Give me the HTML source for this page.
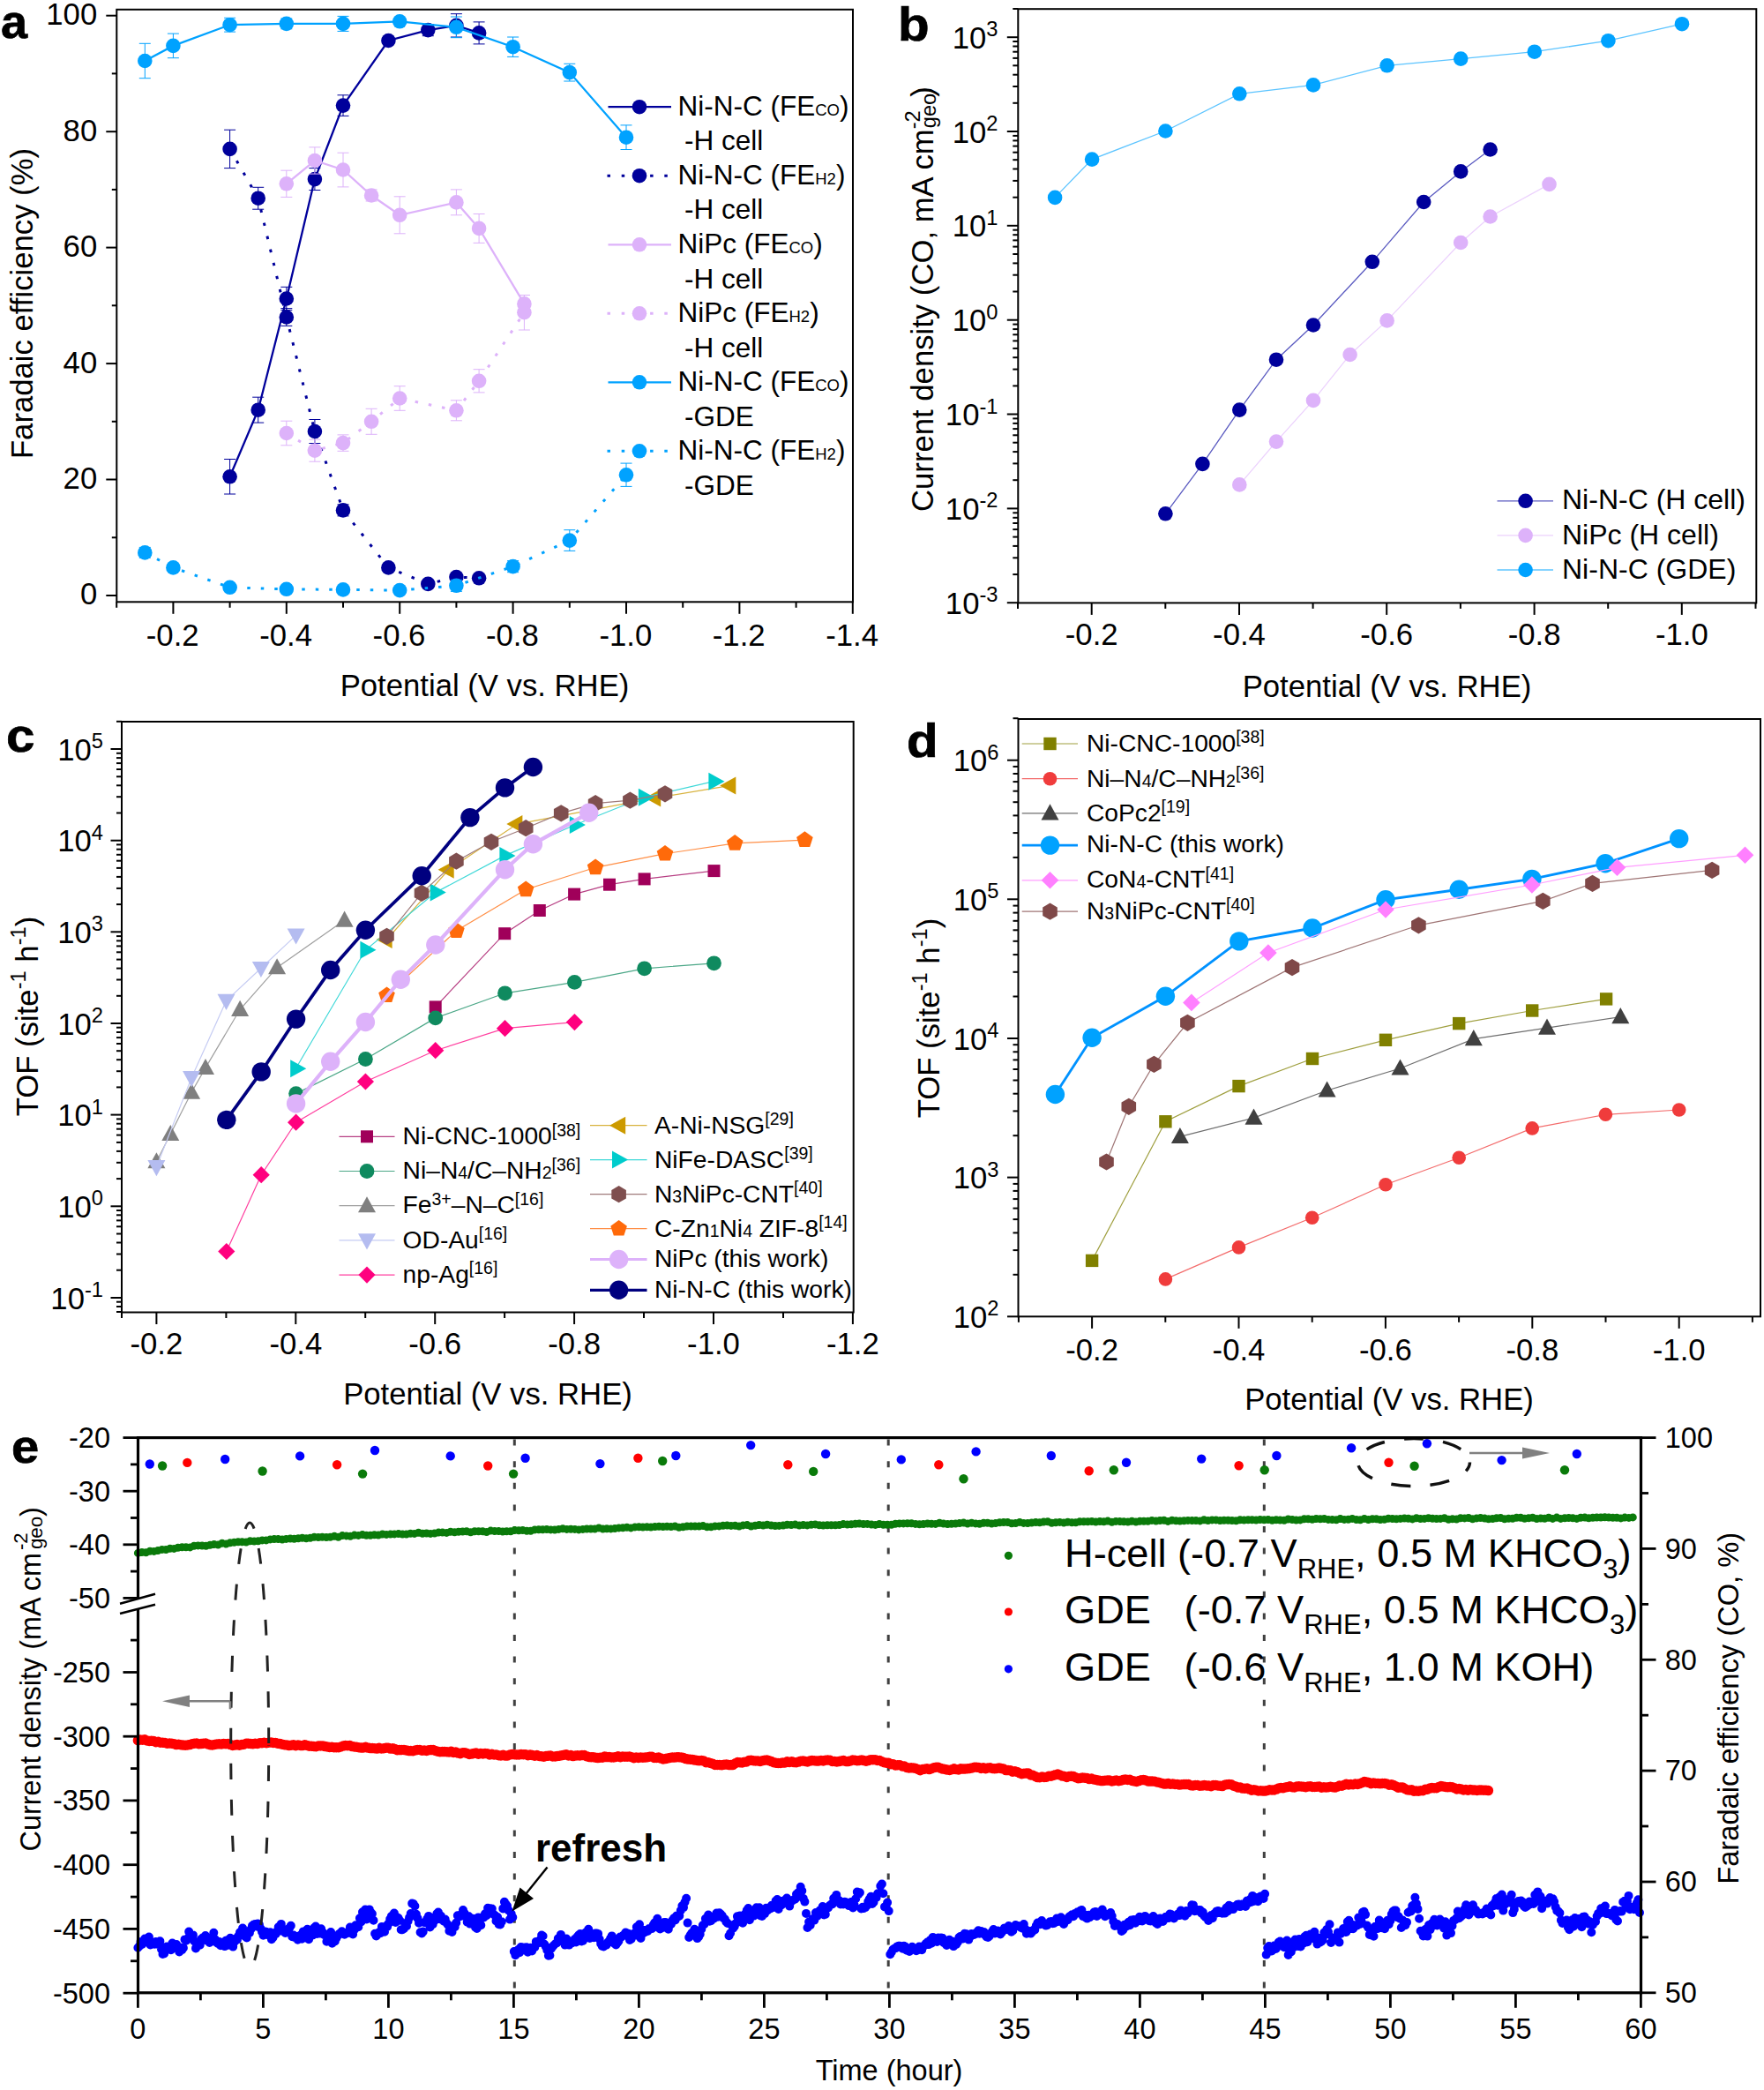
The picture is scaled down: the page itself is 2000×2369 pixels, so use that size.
<!DOCTYPE html><html><head><meta charset="utf-8"><title>Figure</title><style>html,body{margin:0;padding:0;background:#fff}svg{display:block}</style></head><body>
<svg width="2000" height="2369" viewBox="0 0 2000 2369" font-family="Liberation Sans, Arial, sans-serif" fill="#000">
<rect width="2000" height="2369" fill="#fff"/>
<polyline points="260.6,540.3 292.7,464.7 324.8,338.5 356.9,203.1 389,119.6 440.4,46 485.3,34.1 517.4,28.9 543.1,37.4" fill="none" stroke="#00009b" stroke-width="2.3" />
<path d="M260.6 520.5V560M254.1 520.5h13M254.1 560h13" stroke="#00009b" stroke-width="1" fill="none"/>
<path d="M292.7 450.2V479.1M286.2 450.2h13M286.2 479.1h13" stroke="#00009b" stroke-width="1" fill="none"/>
<path d="M324.8 325.3V351.6M318.3 325.3h13M318.3 351.6h13" stroke="#00009b" stroke-width="1" fill="none"/>
<path d="M356.9 190.6V215.5M350.4 190.6h13M350.4 215.5h13" stroke="#00009b" stroke-width="1" fill="none"/>
<path d="M389 107.8V131.4M382.5 107.8h13M382.5 131.4h13" stroke="#00009b" stroke-width="1" fill="none"/>
<path d="M485.3 27.6V40.7M478.8 27.6h13M478.8 40.7h13" stroke="#00009b" stroke-width="1" fill="none"/>
<path d="M517.4 15.7V42M510.9 15.7h13M510.9 42h13" stroke="#00009b" stroke-width="1" fill="none"/>
<path d="M543.1 24.9V49.9M536.6 24.9h13M536.6 49.9h13" stroke="#00009b" stroke-width="1" fill="none"/>
<circle cx="260.6" cy="540.3" r="8.3" fill="#00009b"/>
<circle cx="292.7" cy="464.7" r="8.3" fill="#00009b"/>
<circle cx="324.8" cy="338.5" r="8.3" fill="#00009b"/>
<circle cx="356.9" cy="203.1" r="8.3" fill="#00009b"/>
<circle cx="389" cy="119.6" r="8.3" fill="#00009b"/>
<circle cx="440.4" cy="46" r="8.3" fill="#00009b"/>
<circle cx="485.3" cy="34.1" r="8.3" fill="#00009b"/>
<circle cx="517.4" cy="28.9" r="8.3" fill="#00009b"/>
<circle cx="543.1" cy="37.4" r="8.3" fill="#00009b"/>
<polyline points="260.6,168.9 292.7,224.7 324.8,359.5 356.9,489 389,578.4 440.4,643.4 485.3,661.9 517.4,654 543.1,655.3" fill="none" stroke="#00009b" stroke-width="3" stroke-dasharray="3.5 12"/>
<path d="M260.6 147.2V190.6M254.1 147.2h13M254.1 190.6h13" stroke="#00009b" stroke-width="1" fill="none"/>
<path d="M292.7 212.3V237.2M286.2 212.3h13M286.2 237.2h13" stroke="#00009b" stroke-width="1" fill="none"/>
<path d="M324.8 349.6V369.4M318.3 349.6h13M318.3 369.4h13" stroke="#00009b" stroke-width="1" fill="none"/>
<path d="M356.9 475.5V502.5M350.4 475.5h13M350.4 502.5h13" stroke="#00009b" stroke-width="1" fill="none"/>
<path d="M389 571.8V584.9M382.5 571.8h13M382.5 584.9h13" stroke="#00009b" stroke-width="1" fill="none"/>
<circle cx="260.6" cy="168.9" r="8.3" fill="#00009b"/>
<circle cx="292.7" cy="224.7" r="8.3" fill="#00009b"/>
<circle cx="324.8" cy="359.5" r="8.3" fill="#00009b"/>
<circle cx="356.9" cy="489" r="8.3" fill="#00009b"/>
<circle cx="389" cy="578.4" r="8.3" fill="#00009b"/>
<circle cx="440.4" cy="643.4" r="8.3" fill="#00009b"/>
<circle cx="485.3" cy="661.9" r="8.3" fill="#00009b"/>
<circle cx="517.4" cy="654" r="8.3" fill="#00009b"/>
<circle cx="543.1" cy="655.3" r="8.3" fill="#00009b"/>
<polyline points="324.8,208.3 356.9,182 389,192.5 421.1,221.5 453.2,243.8 517.4,229.4 543.1,258.9 594.4,344.4" fill="none" stroke="#ddb2fa" stroke-width="2.3" />
<path d="M324.8 193.2V223.4M318.3 193.2h13M318.3 223.4h13" stroke="#ddb2fa" stroke-width="1" fill="none"/>
<path d="M356.9 166.9V197.1M350.4 166.9h13M350.4 197.1h13" stroke="#ddb2fa" stroke-width="1" fill="none"/>
<path d="M389 173.2V211.9M382.5 173.2h13M382.5 211.9h13" stroke="#ddb2fa" stroke-width="1" fill="none"/>
<path d="M421.1 214.9V228M414.6 214.9h13M414.6 228h13" stroke="#ddb2fa" stroke-width="1" fill="none"/>
<path d="M453.2 222.8V264.8M446.7 222.8h13M446.7 264.8h13" stroke="#ddb2fa" stroke-width="1" fill="none"/>
<path d="M517.4 214.9V243.8M510.9 214.9h13M510.9 243.8h13" stroke="#ddb2fa" stroke-width="1" fill="none"/>
<path d="M543.1 242.5V275.4M536.6 242.5h13M536.6 275.4h13" stroke="#ddb2fa" stroke-width="1" fill="none"/>
<path d="M594.4 334.5V354.2M587.9 334.5h13M587.9 354.2h13" stroke="#ddb2fa" stroke-width="1" fill="none"/>
<circle cx="324.8" cy="208.3" r="8.3" fill="#ddb2fa"/>
<circle cx="356.9" cy="182" r="8.3" fill="#ddb2fa"/>
<circle cx="389" cy="192.5" r="8.3" fill="#ddb2fa"/>
<circle cx="421.1" cy="221.5" r="8.3" fill="#ddb2fa"/>
<circle cx="453.2" cy="243.8" r="8.3" fill="#ddb2fa"/>
<circle cx="517.4" cy="229.4" r="8.3" fill="#ddb2fa"/>
<circle cx="543.1" cy="258.9" r="8.3" fill="#ddb2fa"/>
<circle cx="594.4" cy="344.4" r="8.3" fill="#ddb2fa"/>
<polyline points="324.8,491 356.9,510.7 389,502.1 421.1,477.8 453.2,451.5 517.4,465.3 543.1,431.8 594.4,354.2" fill="none" stroke="#ddb2fa" stroke-width="3" stroke-dasharray="3.5 12"/>
<path d="M324.8 477.2V504.8M318.3 477.2h13M318.3 504.8h13" stroke="#ddb2fa" stroke-width="1" fill="none"/>
<path d="M356.9 498.2V523.2M350.4 498.2h13M350.4 523.2h13" stroke="#ddb2fa" stroke-width="1" fill="none"/>
<path d="M389 492.9V511.3M382.5 492.9h13M382.5 511.3h13" stroke="#ddb2fa" stroke-width="1" fill="none"/>
<path d="M421.1 463.3V492.3M414.6 463.3h13M414.6 492.3h13" stroke="#ddb2fa" stroke-width="1" fill="none"/>
<path d="M453.2 437.7V465.3M446.7 437.7h13M446.7 465.3h13" stroke="#ddb2fa" stroke-width="1" fill="none"/>
<path d="M517.4 453.8V476.8M510.9 453.8h13M510.9 476.8h13" stroke="#ddb2fa" stroke-width="1" fill="none"/>
<path d="M543.1 418.7V444.9M536.6 418.7h13M536.6 444.9h13" stroke="#ddb2fa" stroke-width="1" fill="none"/>
<path d="M594.4 334.5V374M587.9 334.5h13M587.9 374h13" stroke="#ddb2fa" stroke-width="1" fill="none"/>
<circle cx="324.8" cy="491" r="8.3" fill="#ddb2fa"/>
<circle cx="356.9" cy="510.7" r="8.3" fill="#ddb2fa"/>
<circle cx="389" cy="502.1" r="8.3" fill="#ddb2fa"/>
<circle cx="421.1" cy="477.8" r="8.3" fill="#ddb2fa"/>
<circle cx="453.2" cy="451.5" r="8.3" fill="#ddb2fa"/>
<circle cx="517.4" cy="465.3" r="8.3" fill="#ddb2fa"/>
<circle cx="543.1" cy="431.8" r="8.3" fill="#ddb2fa"/>
<circle cx="594.4" cy="354.2" r="8.3" fill="#ddb2fa"/>
<polyline points="164.3,69 196.4,51.9 260.6,28.2 324.8,26.9 389,26.9 453.2,24.3 517.4,30.8 581.6,53.2 645.8,82.1 710,155.7" fill="none" stroke="#00a2ff" stroke-width="2.3" />
<path d="M164.3 49.3V88.7M157.8 49.3h13M157.8 88.7h13" stroke="#00a2ff" stroke-width="1" fill="none"/>
<path d="M196.4 38.1V65.7M189.9 38.1h13M189.9 65.7h13" stroke="#00a2ff" stroke-width="1" fill="none"/>
<path d="M260.6 20.3V36.1M254.1 20.3h13M254.1 36.1h13" stroke="#00a2ff" stroke-width="1" fill="none"/>
<path d="M324.8 21V32.8M318.3 21h13M318.3 32.8h13" stroke="#00a2ff" stroke-width="1" fill="none"/>
<path d="M389 18.4V35.4M382.5 18.4h13M382.5 35.4h13" stroke="#00a2ff" stroke-width="1" fill="none"/>
<path d="M517.4 19V42.7M510.9 19h13M510.9 42.7h13" stroke="#00a2ff" stroke-width="1" fill="none"/>
<path d="M581.6 42V64.4M575.1 42h13M575.1 64.4h13" stroke="#00a2ff" stroke-width="1" fill="none"/>
<path d="M645.8 72.3V92M639.3 72.3h13M639.3 92h13" stroke="#00a2ff" stroke-width="1" fill="none"/>
<path d="M710 141.9V169.5M703.5 141.9h13M703.5 169.5h13" stroke="#00a2ff" stroke-width="1" fill="none"/>
<circle cx="164.3" cy="69" r="8.3" fill="#00a2ff"/>
<circle cx="196.4" cy="51.9" r="8.3" fill="#00a2ff"/>
<circle cx="260.6" cy="28.2" r="8.3" fill="#00a2ff"/>
<circle cx="324.8" cy="26.9" r="8.3" fill="#00a2ff"/>
<circle cx="389" cy="26.9" r="8.3" fill="#00a2ff"/>
<circle cx="453.2" cy="24.3" r="8.3" fill="#00a2ff"/>
<circle cx="517.4" cy="30.8" r="8.3" fill="#00a2ff"/>
<circle cx="581.6" cy="53.2" r="8.3" fill="#00a2ff"/>
<circle cx="645.8" cy="82.1" r="8.3" fill="#00a2ff"/>
<circle cx="710" cy="155.7" r="8.3" fill="#00a2ff"/>
<polyline points="164.3,626.4 196.4,643.4 260.6,665.8 324.8,667.8 389,668.4 453.2,669.1 517.4,663.8 581.6,642.1 645.8,612.6 710,538.3" fill="none" stroke="#00a2ff" stroke-width="3" stroke-dasharray="3.5 12"/>
<path d="M164.3 620.4V632.3M157.8 620.4h13M157.8 632.3h13" stroke="#00a2ff" stroke-width="1" fill="none"/>
<path d="M517.4 657.3V670.4M510.9 657.3h13M510.9 670.4h13" stroke="#00a2ff" stroke-width="1" fill="none"/>
<path d="M581.6 635.6V648.7M575.1 635.6h13M575.1 648.7h13" stroke="#00a2ff" stroke-width="1" fill="none"/>
<path d="M645.8 600.7V624.4M639.3 600.7h13M639.3 624.4h13" stroke="#00a2ff" stroke-width="1" fill="none"/>
<path d="M710 525.1V551.4M703.5 525.1h13M703.5 551.4h13" stroke="#00a2ff" stroke-width="1" fill="none"/>
<circle cx="164.3" cy="626.4" r="8.3" fill="#00a2ff"/>
<circle cx="196.4" cy="643.4" r="8.3" fill="#00a2ff"/>
<circle cx="260.6" cy="665.8" r="8.3" fill="#00a2ff"/>
<circle cx="324.8" cy="667.8" r="8.3" fill="#00a2ff"/>
<circle cx="389" cy="668.4" r="8.3" fill="#00a2ff"/>
<circle cx="453.2" cy="669.1" r="8.3" fill="#00a2ff"/>
<circle cx="517.4" cy="663.8" r="8.3" fill="#00a2ff"/>
<circle cx="581.6" cy="642.1" r="8.3" fill="#00a2ff"/>
<circle cx="645.8" cy="612.6" r="8.3" fill="#00a2ff"/>
<circle cx="710" cy="538.3" r="8.3" fill="#00a2ff"/>
<rect x="132.3" y="10.8" width="834.7" height="671.5" fill="none" stroke="#000" stroke-width="2"/>
<line x1="132.2" y1="682.3" x2="132.2" y2="688.8" stroke="#000" stroke-width="2" />
<line x1="196.4" y1="682.3" x2="196.4" y2="695.8" stroke="#000" stroke-width="2" />
<text x="195.7" y="732" font-size="34.7" text-anchor="middle" >-0.2</text>
<line x1="260.6" y1="682.3" x2="260.6" y2="688.8" stroke="#000" stroke-width="2" />
<line x1="324.8" y1="682.3" x2="324.8" y2="695.8" stroke="#000" stroke-width="2" />
<text x="324.1" y="732" font-size="34.7" text-anchor="middle" >-0.4</text>
<line x1="389" y1="682.3" x2="389" y2="688.8" stroke="#000" stroke-width="2" />
<line x1="453.2" y1="682.3" x2="453.2" y2="695.8" stroke="#000" stroke-width="2" />
<text x="452.5" y="732" font-size="34.7" text-anchor="middle" >-0.6</text>
<line x1="517.4" y1="682.3" x2="517.4" y2="688.8" stroke="#000" stroke-width="2" />
<line x1="581.6" y1="682.3" x2="581.6" y2="695.8" stroke="#000" stroke-width="2" />
<text x="580.9" y="732" font-size="34.7" text-anchor="middle" >-0.8</text>
<line x1="645.8" y1="682.3" x2="645.8" y2="688.8" stroke="#000" stroke-width="2" />
<line x1="710" y1="682.3" x2="710" y2="695.8" stroke="#000" stroke-width="2" />
<text x="709.3" y="732" font-size="34.7" text-anchor="middle" >-1.0</text>
<line x1="774.2" y1="682.3" x2="774.2" y2="688.8" stroke="#000" stroke-width="2" />
<line x1="838.4" y1="682.3" x2="838.4" y2="695.8" stroke="#000" stroke-width="2" />
<text x="837.7" y="732" font-size="34.7" text-anchor="middle" >-1.2</text>
<line x1="902.6" y1="682.3" x2="902.6" y2="688.8" stroke="#000" stroke-width="2" />
<line x1="966.8" y1="682.3" x2="966.8" y2="695.8" stroke="#000" stroke-width="2" />
<text x="966.1" y="732" font-size="34.7" text-anchor="middle" >-1.4</text>
<line x1="120.3" y1="675" x2="132.3" y2="675" stroke="#000" stroke-width="2" />
<text x="110.2" y="685.4" font-size="34.7" text-anchor="end" >0</text>
<line x1="126.8" y1="609.3" x2="132.3" y2="609.3" stroke="#000" stroke-width="2" />
<line x1="120.3" y1="543.5" x2="132.3" y2="543.5" stroke="#000" stroke-width="2" />
<text x="110.2" y="553.9" font-size="34.7" text-anchor="end" >20</text>
<line x1="126.8" y1="477.8" x2="132.3" y2="477.8" stroke="#000" stroke-width="2" />
<line x1="120.3" y1="412.1" x2="132.3" y2="412.1" stroke="#000" stroke-width="2" />
<text x="110.2" y="422.5" font-size="34.7" text-anchor="end" >40</text>
<line x1="126.8" y1="346.3" x2="132.3" y2="346.3" stroke="#000" stroke-width="2" />
<line x1="120.3" y1="280.6" x2="132.3" y2="280.6" stroke="#000" stroke-width="2" />
<text x="110.2" y="291" font-size="34.7" text-anchor="end" >60</text>
<line x1="126.8" y1="214.9" x2="132.3" y2="214.9" stroke="#000" stroke-width="2" />
<line x1="120.3" y1="149.2" x2="132.3" y2="149.2" stroke="#000" stroke-width="2" />
<text x="110.2" y="159.6" font-size="34.7" text-anchor="end" >80</text>
<line x1="126.8" y1="83.4" x2="132.3" y2="83.4" stroke="#000" stroke-width="2" />
<line x1="120.3" y1="17.7" x2="132.3" y2="17.7" stroke="#000" stroke-width="2" />
<text x="110.2" y="28.1" font-size="34.7" text-anchor="end" >100</text>
<text x="549.5" y="788.5" font-size="34.7" text-anchor="middle" >Potential (V vs. RHE)</text>
<text x="37" y="344" font-size="34.7" text-anchor="middle" transform="rotate(-90 37 344)" >Faradaic efficiency (%)</text>
<text transform="translate(1 42.5) scale(1.0 1)" font-size="54" font-weight="bold" stroke="#000" stroke-width="0.7">a</text>
<line x1="689.5" y1="121.2" x2="761" y2="121.2" stroke="#00009b" stroke-width="2.3" />
<circle cx="725" cy="121.2" r="8.3" fill="#00009b"/>
<text x="768.5" y="131.2" font-size="31.5" text-anchor="start" >Ni-N-C (FE<tspan font-size="18.5">CO</tspan>)</text>
<text x="776" y="170.4" font-size="31.5" text-anchor="start" >-H cell</text>
<line x1="688.5" y1="199.2" x2="762" y2="199.2" stroke="#00009b" stroke-width="3" stroke-dasharray="3.5 12.7"/>
<circle cx="725" cy="199.2" r="8.3" fill="#00009b"/>
<text x="768.5" y="209.2" font-size="31.5" text-anchor="start" >Ni-N-C (FE<tspan font-size="18.5">H2</tspan>)</text>
<text x="776" y="248.4" font-size="31.5" text-anchor="start" >-H cell</text>
<line x1="689.5" y1="277.3" x2="761" y2="277.3" stroke="#ddb2fa" stroke-width="2.3" />
<circle cx="725" cy="277.3" r="8.3" fill="#ddb2fa"/>
<text x="768.5" y="287.3" font-size="31.5" text-anchor="start" >NiPc (FE<tspan font-size="18.5">CO</tspan>)</text>
<text x="776" y="326.5" font-size="31.5" text-anchor="start" >-H cell</text>
<line x1="688.5" y1="355.3" x2="762" y2="355.3" stroke="#ddb2fa" stroke-width="3" stroke-dasharray="3.5 12.7"/>
<circle cx="725" cy="355.3" r="8.3" fill="#ddb2fa"/>
<text x="768.5" y="365.3" font-size="31.5" text-anchor="start" >NiPc (FE<tspan font-size="18.5">H2</tspan>)</text>
<text x="776" y="404.5" font-size="31.5" text-anchor="start" >-H cell</text>
<line x1="689.5" y1="433.3" x2="761" y2="433.3" stroke="#00a2ff" stroke-width="2.3" />
<circle cx="725" cy="433.3" r="8.3" fill="#00a2ff"/>
<text x="768.5" y="443.3" font-size="31.5" text-anchor="start" >Ni-N-C (FE<tspan font-size="18.5">CO</tspan>)</text>
<text x="776" y="482.5" font-size="31.5" text-anchor="start" >-GDE</text>
<line x1="688.5" y1="511.3" x2="762" y2="511.3" stroke="#00a2ff" stroke-width="3" stroke-dasharray="3.5 12.7"/>
<circle cx="725" cy="511.3" r="8.3" fill="#00a2ff"/>
<text x="768.5" y="521.3" font-size="31.5" text-anchor="start" >Ni-N-C (FE<tspan font-size="18.5">H2</tspan>)</text>
<text x="776" y="560.5" font-size="31.5" text-anchor="start" >-GDE</text>
<polyline points="1321.4,582.3 1363.4,525.9 1405.3,464.6 1447,407.7 1489,368.5 1555.8,296.8 1614.2,229 1656.2,194.4 1689.6,169.5" fill="none" stroke="#5a5ac0" stroke-width="1.3" />
<circle cx="1321.4" cy="582.3" r="8.3" fill="#00009b"/>
<circle cx="1363.4" cy="525.9" r="8.3" fill="#00009b"/>
<circle cx="1405.3" cy="464.6" r="8.3" fill="#00009b"/>
<circle cx="1447" cy="407.7" r="8.3" fill="#00009b"/>
<circle cx="1489" cy="368.5" r="8.3" fill="#00009b"/>
<circle cx="1555.8" cy="296.8" r="8.3" fill="#00009b"/>
<circle cx="1614.2" cy="229" r="8.3" fill="#00009b"/>
<circle cx="1656.2" cy="194.4" r="8.3" fill="#00009b"/>
<circle cx="1689.6" cy="169.5" r="8.3" fill="#00009b"/>
<polyline points="1405.3,549.4 1447,500.6 1489,453.9 1530.6,402 1572.6,363.4 1656.2,275 1689.6,245.5 1756.5,208.9" fill="none" stroke="#ecd2fd" stroke-width="1.3" />
<circle cx="1405.3" cy="549.4" r="8.3" fill="#ddb2fa"/>
<circle cx="1447" cy="500.6" r="8.3" fill="#ddb2fa"/>
<circle cx="1489" cy="453.9" r="8.3" fill="#ddb2fa"/>
<circle cx="1530.6" cy="402" r="8.3" fill="#ddb2fa"/>
<circle cx="1572.6" cy="363.4" r="8.3" fill="#ddb2fa"/>
<circle cx="1656.2" cy="275" r="8.3" fill="#ddb2fa"/>
<circle cx="1689.6" cy="245.5" r="8.3" fill="#ddb2fa"/>
<circle cx="1756.5" cy="208.9" r="8.3" fill="#ddb2fa"/>
<polyline points="1196.1,223.9 1238.1,180.6 1321.4,148.5 1405.3,106.3 1489,96.4 1572.6,74.3 1656.2,66.6 1739.8,58.7 1823.4,46.2 1907,27.2" fill="none" stroke="#5cc4ff" stroke-width="1.3" />
<circle cx="1196.1" cy="223.9" r="8.3" fill="#00a2ff"/>
<circle cx="1238.1" cy="180.6" r="8.3" fill="#00a2ff"/>
<circle cx="1321.4" cy="148.5" r="8.3" fill="#00a2ff"/>
<circle cx="1405.3" cy="106.3" r="8.3" fill="#00a2ff"/>
<circle cx="1489" cy="96.4" r="8.3" fill="#00a2ff"/>
<circle cx="1572.6" cy="74.3" r="8.3" fill="#00a2ff"/>
<circle cx="1656.2" cy="66.6" r="8.3" fill="#00a2ff"/>
<circle cx="1739.8" cy="58.7" r="8.3" fill="#00a2ff"/>
<circle cx="1823.4" cy="46.2" r="8.3" fill="#00a2ff"/>
<circle cx="1907" cy="27.2" r="8.3" fill="#00a2ff"/>
<rect x="1154.3" y="10.2" width="837" height="673.2" fill="none" stroke="#000" stroke-width="2"/>
<line x1="1141.8" y1="683.2" x2="1154.3" y2="683.2" stroke="#000" stroke-width="2" />
<text x="1131.5" y="695.9" font-size="34.7" text-anchor="end" >10<tspan font-size="23.7" dy="-13.6">-3</tspan><tspan dy="13.6">&#8203;</tspan></text>
<line x1="1148.3" y1="651.1" x2="1154.3" y2="651.1" stroke="#000" stroke-width="2" />
<line x1="1148.3" y1="632.3" x2="1154.3" y2="632.3" stroke="#000" stroke-width="2" />
<line x1="1148.3" y1="618.9" x2="1154.3" y2="618.9" stroke="#000" stroke-width="2" />
<line x1="1148.3" y1="608.6" x2="1154.3" y2="608.6" stroke="#000" stroke-width="2" />
<line x1="1148.3" y1="600.1" x2="1154.3" y2="600.1" stroke="#000" stroke-width="2" />
<line x1="1148.3" y1="593" x2="1154.3" y2="593" stroke="#000" stroke-width="2" />
<line x1="1148.3" y1="586.8" x2="1154.3" y2="586.8" stroke="#000" stroke-width="2" />
<line x1="1148.3" y1="581.3" x2="1154.3" y2="581.3" stroke="#000" stroke-width="2" />
<line x1="1141.8" y1="576.4" x2="1154.3" y2="576.4" stroke="#000" stroke-width="2" />
<text x="1131.5" y="589" font-size="34.7" text-anchor="end" >10<tspan font-size="23.7" dy="-13.6">-2</tspan><tspan dy="13.6">&#8203;</tspan></text>
<line x1="1148.3" y1="544.2" x2="1154.3" y2="544.2" stroke="#000" stroke-width="2" />
<line x1="1148.3" y1="525.4" x2="1154.3" y2="525.4" stroke="#000" stroke-width="2" />
<line x1="1148.3" y1="512.1" x2="1154.3" y2="512.1" stroke="#000" stroke-width="2" />
<line x1="1148.3" y1="501.7" x2="1154.3" y2="501.7" stroke="#000" stroke-width="2" />
<line x1="1148.3" y1="493.3" x2="1154.3" y2="493.3" stroke="#000" stroke-width="2" />
<line x1="1148.3" y1="486.1" x2="1154.3" y2="486.1" stroke="#000" stroke-width="2" />
<line x1="1148.3" y1="479.9" x2="1154.3" y2="479.9" stroke="#000" stroke-width="2" />
<line x1="1148.3" y1="474.4" x2="1154.3" y2="474.4" stroke="#000" stroke-width="2" />
<line x1="1141.8" y1="469.5" x2="1154.3" y2="469.5" stroke="#000" stroke-width="2" />
<text x="1131.5" y="482.1" font-size="34.7" text-anchor="end" >10<tspan font-size="23.7" dy="-13.6">-1</tspan><tspan dy="13.6">&#8203;</tspan></text>
<line x1="1148.3" y1="437.4" x2="1154.3" y2="437.4" stroke="#000" stroke-width="2" />
<line x1="1148.3" y1="418.6" x2="1154.3" y2="418.6" stroke="#000" stroke-width="2" />
<line x1="1148.3" y1="405.2" x2="1154.3" y2="405.2" stroke="#000" stroke-width="2" />
<line x1="1148.3" y1="394.9" x2="1154.3" y2="394.9" stroke="#000" stroke-width="2" />
<line x1="1148.3" y1="386.4" x2="1154.3" y2="386.4" stroke="#000" stroke-width="2" />
<line x1="1148.3" y1="379.3" x2="1154.3" y2="379.3" stroke="#000" stroke-width="2" />
<line x1="1148.3" y1="373.1" x2="1154.3" y2="373.1" stroke="#000" stroke-width="2" />
<line x1="1148.3" y1="367.6" x2="1154.3" y2="367.6" stroke="#000" stroke-width="2" />
<line x1="1141.8" y1="362.7" x2="1154.3" y2="362.7" stroke="#000" stroke-width="2" />
<text x="1131.5" y="375.3" font-size="34.7" text-anchor="end" >10<tspan font-size="23.7" dy="-13.6">0</tspan><tspan dy="13.6">&#8203;</tspan></text>
<line x1="1148.3" y1="330.5" x2="1154.3" y2="330.5" stroke="#000" stroke-width="2" />
<line x1="1148.3" y1="311.7" x2="1154.3" y2="311.7" stroke="#000" stroke-width="2" />
<line x1="1148.3" y1="298.4" x2="1154.3" y2="298.4" stroke="#000" stroke-width="2" />
<line x1="1148.3" y1="288" x2="1154.3" y2="288" stroke="#000" stroke-width="2" />
<line x1="1148.3" y1="279.6" x2="1154.3" y2="279.6" stroke="#000" stroke-width="2" />
<line x1="1148.3" y1="272.4" x2="1154.3" y2="272.4" stroke="#000" stroke-width="2" />
<line x1="1148.3" y1="266.2" x2="1154.3" y2="266.2" stroke="#000" stroke-width="2" />
<line x1="1148.3" y1="260.7" x2="1154.3" y2="260.7" stroke="#000" stroke-width="2" />
<line x1="1141.8" y1="255.8" x2="1154.3" y2="255.8" stroke="#000" stroke-width="2" />
<text x="1131.5" y="268.4" font-size="34.7" text-anchor="end" >10<tspan font-size="23.7" dy="-13.6">1</tspan><tspan dy="13.6">&#8203;</tspan></text>
<line x1="1148.3" y1="223.7" x2="1154.3" y2="223.7" stroke="#000" stroke-width="2" />
<line x1="1148.3" y1="204.9" x2="1154.3" y2="204.9" stroke="#000" stroke-width="2" />
<line x1="1148.3" y1="191.5" x2="1154.3" y2="191.5" stroke="#000" stroke-width="2" />
<line x1="1148.3" y1="181.2" x2="1154.3" y2="181.2" stroke="#000" stroke-width="2" />
<line x1="1148.3" y1="172.7" x2="1154.3" y2="172.7" stroke="#000" stroke-width="2" />
<line x1="1148.3" y1="165.6" x2="1154.3" y2="165.6" stroke="#000" stroke-width="2" />
<line x1="1148.3" y1="159.4" x2="1154.3" y2="159.4" stroke="#000" stroke-width="2" />
<line x1="1148.3" y1="153.9" x2="1154.3" y2="153.9" stroke="#000" stroke-width="2" />
<line x1="1141.8" y1="149" x2="1154.3" y2="149" stroke="#000" stroke-width="2" />
<text x="1131.5" y="161.6" font-size="34.7" text-anchor="end" >10<tspan font-size="23.7" dy="-13.6">2</tspan><tspan dy="13.6">&#8203;</tspan></text>
<line x1="1148.3" y1="116.8" x2="1154.3" y2="116.8" stroke="#000" stroke-width="2" />
<line x1="1148.3" y1="98" x2="1154.3" y2="98" stroke="#000" stroke-width="2" />
<line x1="1148.3" y1="84.7" x2="1154.3" y2="84.7" stroke="#000" stroke-width="2" />
<line x1="1148.3" y1="74.3" x2="1154.3" y2="74.3" stroke="#000" stroke-width="2" />
<line x1="1148.3" y1="65.9" x2="1154.3" y2="65.9" stroke="#000" stroke-width="2" />
<line x1="1148.3" y1="58.7" x2="1154.3" y2="58.7" stroke="#000" stroke-width="2" />
<line x1="1148.3" y1="52.5" x2="1154.3" y2="52.5" stroke="#000" stroke-width="2" />
<line x1="1148.3" y1="47" x2="1154.3" y2="47" stroke="#000" stroke-width="2" />
<line x1="1141.8" y1="42.2" x2="1154.3" y2="42.2" stroke="#000" stroke-width="2" />
<text x="1131.5" y="54.8" font-size="34.7" text-anchor="end" >10<tspan font-size="23.7" dy="-13.6">3</tspan><tspan dy="13.6">&#8203;</tspan></text>
<line x1="1148.3" y1="10" x2="1154.3" y2="10" stroke="#000" stroke-width="2" />
<line x1="1154" y1="683.4" x2="1154" y2="689.9" stroke="#000" stroke-width="2" />
<line x1="1237.7" y1="683.4" x2="1237.7" y2="696.9" stroke="#000" stroke-width="2" />
<text x="1237.7" y="731" font-size="34.7" text-anchor="middle" >-0.2</text>
<line x1="1321.3" y1="683.4" x2="1321.3" y2="689.9" stroke="#000" stroke-width="2" />
<line x1="1405" y1="683.4" x2="1405" y2="696.9" stroke="#000" stroke-width="2" />
<text x="1405" y="731" font-size="34.7" text-anchor="middle" >-0.4</text>
<line x1="1488.6" y1="683.4" x2="1488.6" y2="689.9" stroke="#000" stroke-width="2" />
<line x1="1572.2" y1="683.4" x2="1572.2" y2="696.9" stroke="#000" stroke-width="2" />
<text x="1572.2" y="731" font-size="34.7" text-anchor="middle" >-0.6</text>
<line x1="1655.9" y1="683.4" x2="1655.9" y2="689.9" stroke="#000" stroke-width="2" />
<line x1="1739.6" y1="683.4" x2="1739.6" y2="696.9" stroke="#000" stroke-width="2" />
<text x="1739.6" y="731" font-size="34.7" text-anchor="middle" >-0.8</text>
<line x1="1823.2" y1="683.4" x2="1823.2" y2="689.9" stroke="#000" stroke-width="2" />
<line x1="1906.8" y1="683.4" x2="1906.8" y2="696.9" stroke="#000" stroke-width="2" />
<text x="1906.8" y="731" font-size="34.7" text-anchor="middle" >-1.0</text>
<line x1="1990.5" y1="683.4" x2="1990.5" y2="689.9" stroke="#000" stroke-width="2" />
<text x="1572.5" y="789.7" font-size="34.7" text-anchor="middle" >Potential (V vs. RHE)</text>
<text x="1058" y="580" font-size="34.7" text-anchor="start" transform="rotate(-90 1058 580)" >Current density (CO, mA cm<tspan font-size="23.7" dy="-15.5">-2</tspan><tspan font-size="23.7" dy="18.3" dx="-20">geo</tspan><tspan dy="-2.8" dx="-4">)</tspan></text>
<text transform="translate(1018 46) scale(1.08 1)" font-size="54" font-weight="bold" stroke="#000" stroke-width="0.7">b</text>
<line x1="1697.5" y1="567.8" x2="1761" y2="567.8" stroke="#5a5ac0" stroke-width="1.3" />
<circle cx="1729.6" cy="567.8" r="8.3" fill="#00009b"/>
<text x="1771" y="577.4" font-size="32" text-anchor="start" >Ni-N-C (H cell)</text>
<line x1="1697.5" y1="606.9" x2="1761" y2="606.9" stroke="#ecd2fd" stroke-width="1.3" />
<circle cx="1729.6" cy="606.9" r="8.3" fill="#ddb2fa"/>
<text x="1771" y="616.5" font-size="32" text-anchor="start" >NiPc (H cell)</text>
<line x1="1697.5" y1="646" x2="1761" y2="646" stroke="#5cc4ff" stroke-width="1.3" />
<circle cx="1729.6" cy="646" r="8.3" fill="#00a2ff"/>
<text x="1771" y="655.6" font-size="32" text-anchor="start" >Ni-N-C (GDE)</text>
<polyline points="493.7,1141.4 572.2,1058.2 611.8,1032 651.1,1013.6 691,1002.7 730.6,996.4 809.5,987.1" fill="none" stroke="#b73f83" stroke-width="1.2" />
<rect x="486.7" y="1134.4" width="14" height="14" fill="#a0005a"/>
<rect x="565.2" y="1051.2" width="14" height="14" fill="#a0005a"/>
<rect x="604.8" y="1025" width="14" height="14" fill="#a0005a"/>
<rect x="644.1" y="1006.6" width="14" height="14" fill="#a0005a"/>
<rect x="684" y="995.7" width="14" height="14" fill="#a0005a"/>
<rect x="723.6" y="989.4" width="14" height="14" fill="#a0005a"/>
<rect x="802.5" y="980.1" width="14" height="14" fill="#a0005a"/>
<polyline points="335.6,1239.6 414.4,1200.5 493.7,1153.9 572.5,1125.8 651.4,1113.4 730.6,1097.8 809.5,1091.8" fill="none" stroke="#4ba787" stroke-width="1.2" />
<circle cx="335.6" cy="1239.6" r="8.4" fill="#0f8a5f"/>
<circle cx="414.4" cy="1200.5" r="8.4" fill="#0f8a5f"/>
<circle cx="493.7" cy="1153.9" r="8.4" fill="#0f8a5f"/>
<circle cx="572.5" cy="1125.8" r="8.4" fill="#0f8a5f"/>
<circle cx="651.4" cy="1113.4" r="8.4" fill="#0f8a5f"/>
<circle cx="730.6" cy="1097.8" r="8.4" fill="#0f8a5f"/>
<circle cx="809.5" cy="1091.8" r="8.4" fill="#0f8a5f"/>
<polyline points="177.4,1316.7 193.3,1285.5 217.1,1238.2 233,1210.4 272.1,1144.3 314.1,1096.7 390.6,1043.1" fill="none" stroke="#9f9f9f" stroke-width="1.2" />
<polygon points="177.4,1306.2 187.4,1324.3 167.4,1324.3" fill="#7f7f7f"/>
<polygon points="193.3,1275 203.3,1293.1 183.3,1293.1" fill="#7f7f7f"/>
<polygon points="217.1,1227.7 227.1,1245.8 207.1,1245.8" fill="#7f7f7f"/>
<polygon points="233,1199.9 243,1218 223,1218" fill="#7f7f7f"/>
<polygon points="272.1,1133.8 282.1,1151.9 262.1,1151.9" fill="#7f7f7f"/>
<polygon points="314.1,1086.2 324.1,1104.3 304.1,1104.3" fill="#7f7f7f"/>
<polygon points="390.6,1032.6 400.6,1050.7 380.6,1050.7" fill="#7f7f7f"/>
<polyline points="177.4,1322.7 217.1,1221.7 256.5,1134.4 295.9,1097.5 335.6,1060.1" fill="none" stroke="#c6ccf3" stroke-width="1.2" />
<polygon points="177.4,1333.2 187.4,1315.1 167.4,1315.1" fill="#b4bcf0"/>
<polygon points="217.1,1232.2 227.1,1214.1 207.1,1214.1" fill="#b4bcf0"/>
<polygon points="256.5,1144.9 266.5,1126.8 246.5,1126.8" fill="#b4bcf0"/>
<polygon points="295.9,1108 305.9,1089.9 285.9,1089.9" fill="#b4bcf0"/>
<polygon points="335.6,1070.6 345.6,1052.5 325.6,1052.5" fill="#b4bcf0"/>
<polyline points="256.8,1418.5 296.2,1331.7 335.6,1272.2 414.4,1226 493.7,1190.7 572.5,1165.7 651.4,1158.6" fill="none" stroke="#ff3f9f" stroke-width="1.2" />
<polygon points="256.8,1408.9 266.4,1418.5 256.8,1428.1 247.2,1418.5" fill="#ff007f"/>
<polygon points="296.2,1322.1 305.8,1331.7 296.2,1341.3 286.6,1331.7" fill="#ff007f"/>
<polygon points="335.6,1262.6 345.2,1272.2 335.6,1281.8 326,1272.2" fill="#ff007f"/>
<polygon points="414.4,1216.4 424,1226 414.4,1235.6 404.8,1226" fill="#ff007f"/>
<polygon points="493.7,1181.1 503.3,1190.7 493.7,1200.3 484.1,1190.7" fill="#ff007f"/>
<polygon points="572.5,1156.1 582.1,1165.7 572.5,1175.3 562.9,1165.7" fill="#ff007f"/>
<polygon points="651.4,1149 661,1158.6 651.4,1168.2 641.8,1158.6" fill="#ff007f"/>
<polyline points="438.5,1065 508.6,985.8 586.3,934.1 743.1,904.4 828.2,890.4" fill="none" stroke="#d8b33f" stroke-width="1.2" />
<polygon points="426.5,1065 444.6,1055 444.6,1075" fill="#cc9a00"/>
<polygon points="496.6,985.8 514.7,975.8 514.7,995.8" fill="#cc9a00"/>
<polygon points="574.3,934.1 592.4,924.1 592.4,944.1" fill="#cc9a00"/>
<polygon points="731.1,904.4 749.2,894.4 749.2,914.4" fill="#cc9a00"/>
<polygon points="816.2,890.4 834.3,880.4 834.3,900.4" fill="#cc9a00"/>
<polyline points="335.3,1211.3 414.5,1076.8 493.8,1011.6 572.5,969.9 651.9,935 730,903.8 809.5,885.7" fill="none" stroke="#3fd8d8" stroke-width="1.2" />
<polygon points="347.3,1211.3 329.2,1201.3 329.2,1221.3" fill="#00cccc"/>
<polygon points="426.5,1076.8 408.4,1066.8 408.4,1086.8" fill="#00cccc"/>
<polygon points="505.8,1011.6 487.7,1001.6 487.7,1021.6" fill="#00cccc"/>
<polygon points="584.5,969.9 566.4,959.9 566.4,979.9" fill="#00cccc"/>
<polygon points="663.9,935 645.8,925 645.8,945" fill="#00cccc"/>
<polygon points="742,903.8 723.9,893.8 723.9,913.8" fill="#00cccc"/>
<polygon points="821.5,885.7 803.4,875.7 803.4,895.7" fill="#00cccc"/>
<polyline points="438.5,1061.3 478,1012.4 517.4,976.2 557,954.3 596.2,938.7 636.2,921.9 675.1,910.7 714.4,907.2 754,899.8" fill="none" stroke="#9f7b7b" stroke-width="1.2" />
<polygon points="438.5,1051.7 446.8,1056.5 446.8,1066.1 438.5,1070.9 430.2,1066.1 430.2,1056.5" fill="#7f4f4f"/>
<polygon points="478,1002.8 486.3,1007.6 486.3,1017.2 478,1022 469.7,1017.2 469.7,1007.6" fill="#7f4f4f"/>
<polygon points="517.4,966.6 525.7,971.4 525.7,981 517.4,985.8 509.1,981 509.1,971.4" fill="#7f4f4f"/>
<polygon points="557,944.7 565.3,949.5 565.3,959.1 557,963.9 548.7,959.1 548.7,949.5" fill="#7f4f4f"/>
<polygon points="596.2,929.1 604.5,933.9 604.5,943.5 596.2,948.3 587.9,943.5 587.9,933.9" fill="#7f4f4f"/>
<polygon points="636.2,912.3 644.5,917.1 644.5,926.7 636.2,931.5 627.9,926.7 627.9,917.1" fill="#7f4f4f"/>
<polygon points="675.1,901.1 683.4,905.9 683.4,915.5 675.1,920.3 666.8,915.5 666.8,905.9" fill="#7f4f4f"/>
<polygon points="714.4,897.6 722.7,902.4 722.7,912 714.4,916.8 706.1,912 706.1,902.4" fill="#7f4f4f"/>
<polygon points="754,890.2 762.3,895 762.3,904.6 754,909.4 745.7,904.6 745.7,895" fill="#7f4f4f"/>
<polyline points="438.5,1128.2 517.4,1055 596.2,1008.3 675.1,983.3 754,967.7 833.2,955.9 912.4,952.1" fill="none" stroke="#ff8f47" stroke-width="1.2" />
<polygon points="438.5,1118.4 447.8,1125.2 444.3,1136.1 432.7,1136.1 429.2,1125.2" fill="#ff6a0a"/>
<polygon points="517.4,1045.2 526.7,1052 523.2,1062.9 511.6,1062.9 508.1,1052" fill="#ff6a0a"/>
<polygon points="596.2,998.5 605.5,1005.3 602,1016.2 590.4,1016.2 586.9,1005.3" fill="#ff6a0a"/>
<polygon points="675.1,973.5 684.4,980.3 680.9,991.2 669.3,991.2 665.8,980.3" fill="#ff6a0a"/>
<polygon points="754,957.9 763.3,964.7 759.8,975.6 748.2,975.6 744.7,964.7" fill="#ff6a0a"/>
<polygon points="833.2,946.1 842.5,952.9 839,963.8 827.4,963.8 823.9,952.9" fill="#ff6a0a"/>
<polygon points="912.4,942.3 921.7,949.1 918.2,960 906.6,960 903.1,949.1" fill="#ff6a0a"/>
<polyline points="335.6,1250.9 374.7,1203.3 414.4,1158.5 454.3,1110.3 493.8,1071 572.5,985.8 604.4,956.8 667.7,921.3" fill="none" stroke="#ddb2fa" stroke-width="4.2" />
<circle cx="335.6" cy="1250.9" r="10.7" fill="#ddb2fa"/>
<circle cx="374.7" cy="1203.3" r="10.7" fill="#ddb2fa"/>
<circle cx="414.4" cy="1158.5" r="10.7" fill="#ddb2fa"/>
<circle cx="454.3" cy="1110.3" r="10.7" fill="#ddb2fa"/>
<circle cx="493.8" cy="1071" r="10.7" fill="#ddb2fa"/>
<circle cx="572.5" cy="985.8" r="10.7" fill="#ddb2fa"/>
<circle cx="604.4" cy="956.8" r="10.7" fill="#ddb2fa"/>
<circle cx="667.7" cy="921.3" r="10.7" fill="#ddb2fa"/>
<polyline points="256.8,1269.4 296.2,1214.9 335.6,1155.1 374.7,1099.5 414.4,1054.2 478.2,992.7 532.9,926.6 572.5,892.9 604.4,869.5" fill="none" stroke="#00007f" stroke-width="3.7" />
<circle cx="256.8" cy="1269.4" r="10.7" fill="#00007f"/>
<circle cx="296.2" cy="1214.9" r="10.7" fill="#00007f"/>
<circle cx="335.6" cy="1155.1" r="10.7" fill="#00007f"/>
<circle cx="374.7" cy="1099.5" r="10.7" fill="#00007f"/>
<circle cx="414.4" cy="1054.2" r="10.7" fill="#00007f"/>
<circle cx="478.2" cy="992.7" r="10.7" fill="#00007f"/>
<circle cx="532.9" cy="926.6" r="10.7" fill="#00007f"/>
<circle cx="572.5" cy="892.9" r="10.7" fill="#00007f"/>
<circle cx="604.4" cy="869.5" r="10.7" fill="#00007f"/>
<rect x="138" y="818" width="829.7" height="669.5" fill="none" stroke="#000" stroke-width="2"/>
<line x1="132" y1="1487" x2="138" y2="1487" stroke="#000" stroke-width="2" />
<line x1="132" y1="1481" x2="138" y2="1481" stroke="#000" stroke-width="2" />
<line x1="132" y1="1475.7" x2="138" y2="1475.7" stroke="#000" stroke-width="2" />
<line x1="125.5" y1="1471" x2="138" y2="1471" stroke="#000" stroke-width="2" />
<text x="117" y="1483.5" font-size="34.7" text-anchor="end" >10<tspan font-size="23.7" dy="-13.6">-1</tspan><tspan dy="13.6">&#8203;</tspan></text>
<line x1="132" y1="1439.7" x2="138" y2="1439.7" stroke="#000" stroke-width="2" />
<line x1="132" y1="1421.5" x2="138" y2="1421.5" stroke="#000" stroke-width="2" />
<line x1="132" y1="1408.5" x2="138" y2="1408.5" stroke="#000" stroke-width="2" />
<line x1="132" y1="1398.5" x2="138" y2="1398.5" stroke="#000" stroke-width="2" />
<line x1="132" y1="1390.3" x2="138" y2="1390.3" stroke="#000" stroke-width="2" />
<line x1="132" y1="1383.4" x2="138" y2="1383.4" stroke="#000" stroke-width="2" />
<line x1="132" y1="1377.3" x2="138" y2="1377.3" stroke="#000" stroke-width="2" />
<line x1="132" y1="1372" x2="138" y2="1372" stroke="#000" stroke-width="2" />
<line x1="125.5" y1="1367.3" x2="138" y2="1367.3" stroke="#000" stroke-width="2" />
<text x="117" y="1379.9" font-size="34.7" text-anchor="end" >10<tspan font-size="23.7" dy="-13.6">0</tspan><tspan dy="13.6">&#8203;</tspan></text>
<line x1="132" y1="1336.1" x2="138" y2="1336.1" stroke="#000" stroke-width="2" />
<line x1="132" y1="1317.8" x2="138" y2="1317.8" stroke="#000" stroke-width="2" />
<line x1="132" y1="1304.9" x2="138" y2="1304.9" stroke="#000" stroke-width="2" />
<line x1="132" y1="1294.9" x2="138" y2="1294.9" stroke="#000" stroke-width="2" />
<line x1="132" y1="1286.6" x2="138" y2="1286.6" stroke="#000" stroke-width="2" />
<line x1="132" y1="1279.7" x2="138" y2="1279.7" stroke="#000" stroke-width="2" />
<line x1="132" y1="1273.7" x2="138" y2="1273.7" stroke="#000" stroke-width="2" />
<line x1="132" y1="1268.4" x2="138" y2="1268.4" stroke="#000" stroke-width="2" />
<line x1="125.5" y1="1263.6" x2="138" y2="1263.6" stroke="#000" stroke-width="2" />
<text x="117" y="1276.2" font-size="34.7" text-anchor="end" >10<tspan font-size="23.7" dy="-13.6">1</tspan><tspan dy="13.6">&#8203;</tspan></text>
<line x1="132" y1="1232.4" x2="138" y2="1232.4" stroke="#000" stroke-width="2" />
<line x1="132" y1="1214.2" x2="138" y2="1214.2" stroke="#000" stroke-width="2" />
<line x1="132" y1="1201.2" x2="138" y2="1201.2" stroke="#000" stroke-width="2" />
<line x1="132" y1="1191.2" x2="138" y2="1191.2" stroke="#000" stroke-width="2" />
<line x1="132" y1="1183" x2="138" y2="1183" stroke="#000" stroke-width="2" />
<line x1="132" y1="1176.1" x2="138" y2="1176.1" stroke="#000" stroke-width="2" />
<line x1="132" y1="1170" x2="138" y2="1170" stroke="#000" stroke-width="2" />
<line x1="132" y1="1164.7" x2="138" y2="1164.7" stroke="#000" stroke-width="2" />
<line x1="125.5" y1="1160" x2="138" y2="1160" stroke="#000" stroke-width="2" />
<text x="117" y="1172.6" font-size="34.7" text-anchor="end" >10<tspan font-size="23.7" dy="-13.6">2</tspan><tspan dy="13.6">&#8203;</tspan></text>
<line x1="132" y1="1128.8" x2="138" y2="1128.8" stroke="#000" stroke-width="2" />
<line x1="132" y1="1110.5" x2="138" y2="1110.5" stroke="#000" stroke-width="2" />
<line x1="132" y1="1097.6" x2="138" y2="1097.6" stroke="#000" stroke-width="2" />
<line x1="132" y1="1087.6" x2="138" y2="1087.6" stroke="#000" stroke-width="2" />
<line x1="132" y1="1079.3" x2="138" y2="1079.3" stroke="#000" stroke-width="2" />
<line x1="132" y1="1072.4" x2="138" y2="1072.4" stroke="#000" stroke-width="2" />
<line x1="132" y1="1066.4" x2="138" y2="1066.4" stroke="#000" stroke-width="2" />
<line x1="132" y1="1061.1" x2="138" y2="1061.1" stroke="#000" stroke-width="2" />
<line x1="125.5" y1="1056.3" x2="138" y2="1056.3" stroke="#000" stroke-width="2" />
<text x="117" y="1068.9" font-size="34.7" text-anchor="end" >10<tspan font-size="23.7" dy="-13.6">3</tspan><tspan dy="13.6">&#8203;</tspan></text>
<line x1="132" y1="1025.1" x2="138" y2="1025.1" stroke="#000" stroke-width="2" />
<line x1="132" y1="1006.9" x2="138" y2="1006.9" stroke="#000" stroke-width="2" />
<line x1="132" y1="993.9" x2="138" y2="993.9" stroke="#000" stroke-width="2" />
<line x1="132" y1="983.9" x2="138" y2="983.9" stroke="#000" stroke-width="2" />
<line x1="132" y1="975.7" x2="138" y2="975.7" stroke="#000" stroke-width="2" />
<line x1="132" y1="968.8" x2="138" y2="968.8" stroke="#000" stroke-width="2" />
<line x1="132" y1="962.7" x2="138" y2="962.7" stroke="#000" stroke-width="2" />
<line x1="132" y1="957.4" x2="138" y2="957.4" stroke="#000" stroke-width="2" />
<line x1="125.5" y1="952.7" x2="138" y2="952.7" stroke="#000" stroke-width="2" />
<text x="117" y="965.3" font-size="34.7" text-anchor="end" >10<tspan font-size="23.7" dy="-13.6">4</tspan><tspan dy="13.6">&#8203;</tspan></text>
<line x1="132" y1="921.5" x2="138" y2="921.5" stroke="#000" stroke-width="2" />
<line x1="132" y1="903.2" x2="138" y2="903.2" stroke="#000" stroke-width="2" />
<line x1="132" y1="890.3" x2="138" y2="890.3" stroke="#000" stroke-width="2" />
<line x1="132" y1="880.3" x2="138" y2="880.3" stroke="#000" stroke-width="2" />
<line x1="132" y1="872" x2="138" y2="872" stroke="#000" stroke-width="2" />
<line x1="132" y1="865.1" x2="138" y2="865.1" stroke="#000" stroke-width="2" />
<line x1="132" y1="859.1" x2="138" y2="859.1" stroke="#000" stroke-width="2" />
<line x1="132" y1="853.8" x2="138" y2="853.8" stroke="#000" stroke-width="2" />
<line x1="125.5" y1="849" x2="138" y2="849" stroke="#000" stroke-width="2" />
<text x="117" y="861.6" font-size="34.7" text-anchor="end" >10<tspan font-size="23.7" dy="-13.6">5</tspan><tspan dy="13.6">&#8203;</tspan></text>
<line x1="132" y1="817.8" x2="138" y2="817.8" stroke="#000" stroke-width="2" />
<line x1="177.4" y1="1487.5" x2="177.4" y2="1501" stroke="#000" stroke-width="2" />
<text x="177.4" y="1535" font-size="34.7" text-anchor="middle" >-0.2</text>
<line x1="256.4" y1="1487.5" x2="256.4" y2="1494" stroke="#000" stroke-width="2" />
<line x1="335.3" y1="1487.5" x2="335.3" y2="1501" stroke="#000" stroke-width="2" />
<text x="335.3" y="1535" font-size="34.7" text-anchor="middle" >-0.4</text>
<line x1="414.2" y1="1487.5" x2="414.2" y2="1494" stroke="#000" stroke-width="2" />
<line x1="493.2" y1="1487.5" x2="493.2" y2="1501" stroke="#000" stroke-width="2" />
<text x="493.2" y="1535" font-size="34.7" text-anchor="middle" >-0.6</text>
<line x1="572.1" y1="1487.5" x2="572.1" y2="1494" stroke="#000" stroke-width="2" />
<line x1="651.1" y1="1487.5" x2="651.1" y2="1501" stroke="#000" stroke-width="2" />
<text x="651.1" y="1535" font-size="34.7" text-anchor="middle" >-0.8</text>
<line x1="730" y1="1487.5" x2="730" y2="1494" stroke="#000" stroke-width="2" />
<line x1="809" y1="1487.5" x2="809" y2="1501" stroke="#000" stroke-width="2" />
<text x="809" y="1535" font-size="34.7" text-anchor="middle" >-1.0</text>
<line x1="888" y1="1487.5" x2="888" y2="1494" stroke="#000" stroke-width="2" />
<line x1="966.9" y1="1487.5" x2="966.9" y2="1501" stroke="#000" stroke-width="2" />
<text x="966.9" y="1535" font-size="34.7" text-anchor="middle" >-1.2</text>
<line x1="138" y1="1487.5" x2="138" y2="1494" stroke="#000" stroke-width="2" />
<text x="553" y="1592" font-size="34.7" text-anchor="middle" >Potential (V vs. RHE)</text>
<text x="42.5" y="1152" font-size="34.7" text-anchor="middle" transform="rotate(-90 42.5 1152)" >TOF (site<tspan font-size="23.7" dy="-13.6">-1</tspan><tspan dy="13.6">&#8203;</tspan> h<tspan font-size="23.7" dy="-13.6">-1</tspan><tspan dy="13.6">&#8203;</tspan>)</text>
<text transform="translate(7 852) scale(1.08 1)" font-size="54" font-weight="bold" stroke="#000" stroke-width="0.7">c</text>
<line x1="384.5" y1="1288.3" x2="447.5" y2="1288.3" stroke="#b73f83" stroke-width="1.2" />
<rect x="409" y="1281.3" width="14" height="14" fill="#a0005a"/>
<text x="456.6" y="1297" font-size="28.2" text-anchor="start" >Ni-CNC-1000<tspan font-size="19.5" dy="-9.5">[38]</tspan><tspan dy="9.5">&#8203;</tspan></text>
<line x1="384.5" y1="1327.5" x2="447.5" y2="1327.5" stroke="#4ba787" stroke-width="1.2" />
<circle cx="416" cy="1327.5" r="8.4" fill="#0f8a5f"/>
<text x="456.6" y="1336.2" font-size="28.2" text-anchor="start" >Ni–N<tspan font-size="19.5">4</tspan>/C–NH<tspan font-size="19.5">2</tspan><tspan font-size="19.5" dy="-9.5">[36]</tspan><tspan dy="9.5">&#8203;</tspan></text>
<line x1="384.5" y1="1366.7" x2="447.5" y2="1366.7" stroke="#9f9f9f" stroke-width="1.2" />
<polygon points="416,1356.2 426,1374.3 406,1374.3" fill="#7f7f7f"/>
<text x="456.6" y="1375.4" font-size="28.2" text-anchor="start" >Fe<tspan font-size="19.5" dy="-9.5">3+</tspan><tspan dy="9.5">&#8203;</tspan>–N–C<tspan font-size="19.5" dy="-9.5">[16]</tspan><tspan dy="9.5">&#8203;</tspan></text>
<line x1="384.5" y1="1405.9" x2="447.5" y2="1405.9" stroke="#c6ccf3" stroke-width="1.2" />
<polygon points="416,1416.4 426,1398.3 406,1398.3" fill="#b4bcf0"/>
<text x="456.6" y="1414.6" font-size="28.2" text-anchor="start" >OD-Au<tspan font-size="19.5" dy="-9.5">[16]</tspan><tspan dy="9.5">&#8203;</tspan></text>
<line x1="384.5" y1="1445.1" x2="447.5" y2="1445.1" stroke="#ff3f9f" stroke-width="1.2" />
<polygon points="416,1435.5 425.6,1445.1 416,1454.7 406.4,1445.1" fill="#ff007f"/>
<text x="456.6" y="1453.8" font-size="28.2" text-anchor="start" >np-Ag<tspan font-size="19.5" dy="-9.5">[16]</tspan><tspan dy="9.5">&#8203;</tspan></text>
<line x1="669" y1="1275.7" x2="733.5" y2="1275.7" stroke="#d8b33f" stroke-width="1.2" />
<polygon points="691.1,1275.7 709.2,1265.7 709.2,1285.7" fill="#cc9a00"/>
<text x="742" y="1284.6" font-size="28.2" text-anchor="start" >A-Ni-NSG<tspan font-size="19.5" dy="-9.5">[29]</tspan><tspan dy="9.5">&#8203;</tspan></text>
<line x1="669" y1="1314.6" x2="733.5" y2="1314.6" stroke="#3fd8d8" stroke-width="1.2" />
<polygon points="712.1,1314.6 694,1304.6 694,1324.6" fill="#00cccc"/>
<text x="742" y="1323.5" font-size="28.2" text-anchor="start" >NiFe-DASC<tspan font-size="19.5" dy="-9.5">[39]</tspan><tspan dy="9.5">&#8203;</tspan></text>
<line x1="669" y1="1353.7" x2="733.5" y2="1353.7" stroke="#9f7b7b" stroke-width="1.2" />
<polygon points="701.6,1344.1 709.9,1348.9 709.9,1358.5 701.6,1363.3 693.3,1358.5 693.3,1348.9" fill="#7f4f4f"/>
<text x="742" y="1362.6" font-size="28.2" text-anchor="start" >N<tspan font-size="19.5">3</tspan>NiPc-CNT<tspan font-size="19.5" dy="-9.5">[40]</tspan><tspan dy="9.5">&#8203;</tspan></text>
<line x1="669" y1="1392.7" x2="733.5" y2="1392.7" stroke="#ff8f47" stroke-width="1.2" />
<polygon points="701.6,1382.9 710.9,1389.7 707.4,1400.6 695.8,1400.6 692.3,1389.7" fill="#ff6a0a"/>
<text x="742" y="1401.6" font-size="28.2" text-anchor="start" >C-Zn<tspan font-size="19.5">1</tspan>Ni<tspan font-size="19.5">4</tspan> ZIF-8<tspan font-size="19.5" dy="-9.5">[14]</tspan><tspan dy="9.5">&#8203;</tspan></text>
<line x1="669" y1="1427.5" x2="733.5" y2="1427.5" stroke="#ddb2fa" stroke-width="3.2" />
<circle cx="701.6" cy="1427.5" r="10.7" fill="#ddb2fa"/>
<text x="742" y="1436.4" font-size="28.2" text-anchor="start" >NiPc (this work)</text>
<line x1="669" y1="1462.3" x2="733.5" y2="1462.3" stroke="#00007f" stroke-width="3.2" />
<circle cx="701.6" cy="1462.3" r="10.7" fill="#00007f"/>
<text x="742" y="1471.2" font-size="28.2" text-anchor="start" >Ni-N-C (this work)</text>
<polyline points="1238.1,1428.9 1321.4,1271.3 1404.5,1231.1 1488,1200 1571,1178.8 1654.2,1160.1 1737.2,1145.5 1821.1,1132.4" fill="none" stroke="#9f9f3f" stroke-width="1.2" />
<rect x="1230.9" y="1421.7" width="14.4" height="14.4" fill="#808000"/>
<rect x="1314.2" y="1264.1" width="14.4" height="14.4" fill="#808000"/>
<rect x="1397.3" y="1223.9" width="14.4" height="14.4" fill="#808000"/>
<rect x="1480.8" y="1192.8" width="14.4" height="14.4" fill="#808000"/>
<rect x="1563.8" y="1171.6" width="14.4" height="14.4" fill="#808000"/>
<rect x="1647" y="1152.9" width="14.4" height="14.4" fill="#808000"/>
<rect x="1730" y="1138.3" width="14.4" height="14.4" fill="#808000"/>
<rect x="1813.9" y="1125.2" width="14.4" height="14.4" fill="#808000"/>
<polyline points="1321.4,1449.9 1404.5,1413.9 1487.7,1380.3 1571,1342.8 1654.2,1312.2 1737.2,1278.9 1820.4,1263.3 1903.7,1258" fill="none" stroke="#f36c6c" stroke-width="1.2" />
<circle cx="1321.4" cy="1449.9" r="7.8" fill="#f03c3c"/>
<circle cx="1404.5" cy="1413.9" r="7.8" fill="#f03c3c"/>
<circle cx="1487.7" cy="1380.3" r="7.8" fill="#f03c3c"/>
<circle cx="1571" cy="1342.8" r="7.8" fill="#f03c3c"/>
<circle cx="1654.2" cy="1312.2" r="7.8" fill="#f03c3c"/>
<circle cx="1737.2" cy="1278.9" r="7.8" fill="#f03c3c"/>
<circle cx="1820.4" cy="1263.3" r="7.8" fill="#f03c3c"/>
<circle cx="1903.7" cy="1258" r="7.8" fill="#f03c3c"/>
<polyline points="1337.9,1288.4 1421.5,1267.1 1504.6,1236 1587.5,1211 1670.8,1177.6 1754,1165.1 1837.3,1152.6" fill="none" stroke="#6f6f6f" stroke-width="1.2" />
<polygon points="1337.9,1277.9 1347.9,1296 1327.9,1296" fill="#404040"/>
<polygon points="1421.5,1256.6 1431.5,1274.7 1411.5,1274.7" fill="#404040"/>
<polygon points="1504.6,1225.5 1514.6,1243.6 1494.6,1243.6" fill="#404040"/>
<polygon points="1587.5,1200.5 1597.5,1218.6 1577.5,1218.6" fill="#404040"/>
<polygon points="1670.8,1167.1 1680.8,1185.2 1660.8,1185.2" fill="#404040"/>
<polygon points="1754,1154.6 1764,1172.7 1744,1172.7" fill="#404040"/>
<polygon points="1837.3,1142.1 1847.3,1160.2 1827.3,1160.2" fill="#404040"/>
<polyline points="1196.4,1240.5 1238.1,1176.3 1321.4,1129.3 1404.8,1066.9 1488,1052 1571,1019.8 1654.2,1008.3 1736.9,996.4 1820.1,978.7 1903.7,950.6" fill="none" stroke="#0092ff" stroke-width="2.9" />
<circle cx="1196.4" cy="1240.5" r="10.7" fill="#00a2ff"/>
<circle cx="1238.1" cy="1176.3" r="10.7" fill="#00a2ff"/>
<circle cx="1321.4" cy="1129.3" r="10.7" fill="#00a2ff"/>
<circle cx="1404.8" cy="1066.9" r="10.7" fill="#00a2ff"/>
<circle cx="1488" cy="1052" r="10.7" fill="#00a2ff"/>
<circle cx="1571" cy="1019.8" r="10.7" fill="#00a2ff"/>
<circle cx="1654.2" cy="1008.3" r="10.7" fill="#00a2ff"/>
<circle cx="1736.9" cy="996.4" r="10.7" fill="#00a2ff"/>
<circle cx="1820.1" cy="978.7" r="10.7" fill="#00a2ff"/>
<circle cx="1903.7" cy="950.6" r="10.7" fill="#00a2ff"/>
<polyline points="1350.9,1136.4 1437.9,1080 1571,1031 1736.9,1003 1833.5,983.3 1978.5,969.3" fill="none" stroke="#ff9fff" stroke-width="1.2" />
<polygon points="1350.9,1126.6 1360.7,1136.4 1350.9,1146.2 1341.1,1136.4" fill="#ff80ff"/>
<polygon points="1437.9,1070.2 1447.7,1080 1437.9,1089.8 1428.1,1080" fill="#ff80ff"/>
<polygon points="1571,1021.2 1580.8,1031 1571,1040.8 1561.2,1031" fill="#ff80ff"/>
<polygon points="1736.9,993.2 1746.7,1003 1736.9,1012.8 1727.1,1003" fill="#ff80ff"/>
<polygon points="1833.5,973.5 1843.3,983.3 1833.5,993.1 1823.7,983.3" fill="#ff80ff"/>
<polygon points="1978.5,959.5 1988.3,969.3 1978.5,979.1 1968.7,969.3" fill="#ff80ff"/>
<polyline points="1254.5,1317 1279.8,1254.3 1308.4,1206.4 1346.4,1159.3 1465,1096.6 1608.4,1048.8 1749.3,1021.4 1805.5,1001.4 1941.1,986.4" fill="none" stroke="#9f7575" stroke-width="1.2" />
<polygon points="1254.5,1307.4 1262.8,1312.2 1262.8,1321.8 1254.5,1326.6 1246.2,1321.8 1246.2,1312.2" fill="#7f4848"/>
<polygon points="1279.8,1244.7 1288.1,1249.5 1288.1,1259.1 1279.8,1263.9 1271.5,1259.1 1271.5,1249.5" fill="#7f4848"/>
<polygon points="1308.4,1196.8 1316.7,1201.6 1316.7,1211.2 1308.4,1216 1300.1,1211.2 1300.1,1201.6" fill="#7f4848"/>
<polygon points="1346.4,1149.7 1354.7,1154.5 1354.7,1164.1 1346.4,1168.9 1338.1,1164.1 1338.1,1154.5" fill="#7f4848"/>
<polygon points="1465,1087 1473.3,1091.8 1473.3,1101.4 1465,1106.2 1456.7,1101.4 1456.7,1091.8" fill="#7f4848"/>
<polygon points="1608.4,1039.2 1616.7,1044 1616.7,1053.6 1608.4,1058.4 1600.1,1053.6 1600.1,1044" fill="#7f4848"/>
<polygon points="1749.3,1011.8 1757.6,1016.6 1757.6,1026.2 1749.3,1031 1741,1026.2 1741,1016.6" fill="#7f4848"/>
<polygon points="1805.5,991.8 1813.8,996.6 1813.8,1006.2 1805.5,1011 1797.2,1006.2 1797.2,996.6" fill="#7f4848"/>
<polygon points="1941.1,976.8 1949.4,981.6 1949.4,991.2 1941.1,996 1932.8,991.2 1932.8,981.6" fill="#7f4848"/>
<rect x="1154.5" y="815" width="841.5" height="677.3" fill="none" stroke="#000" stroke-width="2"/>
<line x1="1142" y1="1492.3" x2="1154.5" y2="1492.3" stroke="#000" stroke-width="2" />
<text x="1132.5" y="1504.9" font-size="34.7" text-anchor="end" >10<tspan font-size="23.7" dy="-13.6">2</tspan><tspan dy="13.6">&#8203;</tspan></text>
<line x1="1148.5" y1="1444.8" x2="1154.5" y2="1444.8" stroke="#000" stroke-width="2" />
<line x1="1148.5" y1="1417.1" x2="1154.5" y2="1417.1" stroke="#000" stroke-width="2" />
<line x1="1148.5" y1="1397.4" x2="1154.5" y2="1397.4" stroke="#000" stroke-width="2" />
<line x1="1148.5" y1="1382.1" x2="1154.5" y2="1382.1" stroke="#000" stroke-width="2" />
<line x1="1148.5" y1="1369.6" x2="1154.5" y2="1369.6" stroke="#000" stroke-width="2" />
<line x1="1148.5" y1="1359.1" x2="1154.5" y2="1359.1" stroke="#000" stroke-width="2" />
<line x1="1148.5" y1="1349.9" x2="1154.5" y2="1349.9" stroke="#000" stroke-width="2" />
<line x1="1148.5" y1="1341.9" x2="1154.5" y2="1341.9" stroke="#000" stroke-width="2" />
<line x1="1142" y1="1334.6" x2="1154.5" y2="1334.6" stroke="#000" stroke-width="2" />
<text x="1132.5" y="1347.2" font-size="34.7" text-anchor="end" >10<tspan font-size="23.7" dy="-13.6">3</tspan><tspan dy="13.6">&#8203;</tspan></text>
<line x1="1148.5" y1="1287.2" x2="1154.5" y2="1287.2" stroke="#000" stroke-width="2" />
<line x1="1148.5" y1="1259.4" x2="1154.5" y2="1259.4" stroke="#000" stroke-width="2" />
<line x1="1148.5" y1="1239.7" x2="1154.5" y2="1239.7" stroke="#000" stroke-width="2" />
<line x1="1148.5" y1="1224.5" x2="1154.5" y2="1224.5" stroke="#000" stroke-width="2" />
<line x1="1148.5" y1="1212" x2="1154.5" y2="1212" stroke="#000" stroke-width="2" />
<line x1="1148.5" y1="1201.4" x2="1154.5" y2="1201.4" stroke="#000" stroke-width="2" />
<line x1="1148.5" y1="1192.3" x2="1154.5" y2="1192.3" stroke="#000" stroke-width="2" />
<line x1="1148.5" y1="1184.2" x2="1154.5" y2="1184.2" stroke="#000" stroke-width="2" />
<line x1="1142" y1="1177" x2="1154.5" y2="1177" stroke="#000" stroke-width="2" />
<text x="1132.5" y="1189.6" font-size="34.7" text-anchor="end" >10<tspan font-size="23.7" dy="-13.6">4</tspan><tspan dy="13.6">&#8203;</tspan></text>
<line x1="1148.5" y1="1129.5" x2="1154.5" y2="1129.5" stroke="#000" stroke-width="2" />
<line x1="1148.5" y1="1101.8" x2="1154.5" y2="1101.8" stroke="#000" stroke-width="2" />
<line x1="1148.5" y1="1082.1" x2="1154.5" y2="1082.1" stroke="#000" stroke-width="2" />
<line x1="1148.5" y1="1066.8" x2="1154.5" y2="1066.8" stroke="#000" stroke-width="2" />
<line x1="1148.5" y1="1054.3" x2="1154.5" y2="1054.3" stroke="#000" stroke-width="2" />
<line x1="1148.5" y1="1043.8" x2="1154.5" y2="1043.8" stroke="#000" stroke-width="2" />
<line x1="1148.5" y1="1034.6" x2="1154.5" y2="1034.6" stroke="#000" stroke-width="2" />
<line x1="1148.5" y1="1026.6" x2="1154.5" y2="1026.6" stroke="#000" stroke-width="2" />
<line x1="1142" y1="1019.3" x2="1154.5" y2="1019.3" stroke="#000" stroke-width="2" />
<text x="1132.5" y="1031.9" font-size="34.7" text-anchor="end" >10<tspan font-size="23.7" dy="-13.6">5</tspan><tspan dy="13.6">&#8203;</tspan></text>
<line x1="1148.5" y1="971.9" x2="1154.5" y2="971.9" stroke="#000" stroke-width="2" />
<line x1="1148.5" y1="944.1" x2="1154.5" y2="944.1" stroke="#000" stroke-width="2" />
<line x1="1148.5" y1="924.4" x2="1154.5" y2="924.4" stroke="#000" stroke-width="2" />
<line x1="1148.5" y1="909.2" x2="1154.5" y2="909.2" stroke="#000" stroke-width="2" />
<line x1="1148.5" y1="896.7" x2="1154.5" y2="896.7" stroke="#000" stroke-width="2" />
<line x1="1148.5" y1="886.1" x2="1154.5" y2="886.1" stroke="#000" stroke-width="2" />
<line x1="1148.5" y1="877" x2="1154.5" y2="877" stroke="#000" stroke-width="2" />
<line x1="1148.5" y1="868.9" x2="1154.5" y2="868.9" stroke="#000" stroke-width="2" />
<line x1="1142" y1="861.7" x2="1154.5" y2="861.7" stroke="#000" stroke-width="2" />
<text x="1132.5" y="874.3" font-size="34.7" text-anchor="end" >10<tspan font-size="23.7" dy="-13.6">6</tspan><tspan dy="13.6">&#8203;</tspan></text>
<line x1="1148.5" y1="814.2" x2="1154.5" y2="814.2" stroke="#000" stroke-width="2" />
<line x1="1154.9" y1="1492.3" x2="1154.9" y2="1498.8" stroke="#000" stroke-width="2" />
<line x1="1238.1" y1="1492.3" x2="1238.1" y2="1505.8" stroke="#000" stroke-width="2" />
<text x="1238.1" y="1541.5" font-size="34.7" text-anchor="middle" >-0.2</text>
<line x1="1321.3" y1="1492.3" x2="1321.3" y2="1498.8" stroke="#000" stroke-width="2" />
<line x1="1404.5" y1="1492.3" x2="1404.5" y2="1505.8" stroke="#000" stroke-width="2" />
<text x="1404.5" y="1541.5" font-size="34.7" text-anchor="middle" >-0.4</text>
<line x1="1487.7" y1="1492.3" x2="1487.7" y2="1498.8" stroke="#000" stroke-width="2" />
<line x1="1570.9" y1="1492.3" x2="1570.9" y2="1505.8" stroke="#000" stroke-width="2" />
<text x="1570.9" y="1541.5" font-size="34.7" text-anchor="middle" >-0.6</text>
<line x1="1654.1" y1="1492.3" x2="1654.1" y2="1498.8" stroke="#000" stroke-width="2" />
<line x1="1737.3" y1="1492.3" x2="1737.3" y2="1505.8" stroke="#000" stroke-width="2" />
<text x="1737.3" y="1541.5" font-size="34.7" text-anchor="middle" >-0.8</text>
<line x1="1820.5" y1="1492.3" x2="1820.5" y2="1498.8" stroke="#000" stroke-width="2" />
<line x1="1903.7" y1="1492.3" x2="1903.7" y2="1505.8" stroke="#000" stroke-width="2" />
<text x="1903.7" y="1541.5" font-size="34.7" text-anchor="middle" >-1.0</text>
<line x1="1986.9" y1="1492.3" x2="1986.9" y2="1498.8" stroke="#000" stroke-width="2" />
<text x="1575" y="1598" font-size="34.7" text-anchor="middle" >Potential (V vs. RHE)</text>
<text x="1064.5" y="1154" font-size="34.7" text-anchor="middle" transform="rotate(-90 1064.5 1154)" >TOF (site<tspan font-size="23.7" dy="-13.6">-1</tspan><tspan dy="13.6">&#8203;</tspan> h<tspan font-size="23.7" dy="-13.6">-1</tspan><tspan dy="13.6">&#8203;</tspan>)</text>
<text transform="translate(1028 858) scale(1.08 1)" font-size="54" font-weight="bold" stroke="#000" stroke-width="0.7">d</text>
<line x1="1158.7" y1="843" x2="1222" y2="843" stroke="#9f9f3f" stroke-width="1.2" />
<rect x="1183.3" y="835.8" width="14.4" height="14.4" fill="#808000"/>
<text x="1232" y="851.8" font-size="28.2" text-anchor="start" >Ni-CNC-1000<tspan font-size="19.5" dy="-9.5">[38]</tspan><tspan dy="9.5">&#8203;</tspan></text>
<line x1="1158.7" y1="882.7" x2="1222" y2="882.7" stroke="#f36c6c" stroke-width="1.2" />
<circle cx="1190.5" cy="882.7" r="7.8" fill="#f03c3c"/>
<text x="1232" y="892" font-size="28.2" text-anchor="start" >Ni–N<tspan font-size="19.5">4</tspan>/C–NH<tspan font-size="19.5">2</tspan><tspan font-size="19.5" dy="-9.5">[36]</tspan><tspan dy="9.5">&#8203;</tspan></text>
<line x1="1158.7" y1="921.8" x2="1222" y2="921.8" stroke="#6f6f6f" stroke-width="1.2" />
<polygon points="1190.5,911.3 1200.5,929.4 1180.5,929.4" fill="#404040"/>
<text x="1232" y="930.9" font-size="28.2" text-anchor="start" >CoPc2<tspan font-size="19.5" dy="-9.5">[19]</tspan><tspan dy="9.5">&#8203;</tspan></text>
<line x1="1158.7" y1="958.1" x2="1222" y2="958.1" stroke="#0092ff" stroke-width="2.9" />
<circle cx="1190.5" cy="958.1" r="10.7" fill="#00a2ff"/>
<text x="1232" y="966.3" font-size="28.2" text-anchor="start" >Ni-N-C (this work)</text>
<line x1="1158.7" y1="997.8" x2="1222" y2="997.8" stroke="#ff9fff" stroke-width="1.2" />
<polygon points="1190.5,988 1200.3,997.8 1190.5,1007.6 1180.7,997.8" fill="#ff80ff"/>
<text x="1232" y="1006" font-size="28.2" text-anchor="start" >CoN<tspan font-size="19.5">4</tspan>-CNT<tspan font-size="19.5" dy="-9.5">[41]</tspan><tspan dy="9.5">&#8203;</tspan></text>
<line x1="1158.7" y1="1033.2" x2="1222" y2="1033.2" stroke="#9f7575" stroke-width="1.2" />
<polygon points="1190.5,1023.6 1198.8,1028.4 1198.8,1038 1190.5,1042.8 1182.2,1038 1182.2,1028.4" fill="#7f4848"/>
<text x="1232" y="1041.7" font-size="28.2" text-anchor="start" >N<tspan font-size="19.5">3</tspan>NiPc-CNT<tspan font-size="19.5" dy="-9.5">[40]</tspan><tspan dy="9.5">&#8203;</tspan></text>
<line x1="583.3" y1="1631.6" x2="583.3" y2="2256.8" stroke="#404040" stroke-width="3" stroke-dasharray="7 17.6"/>
<line x1="1007.2" y1="1631.6" x2="1007.2" y2="2256.8" stroke="#404040" stroke-width="3" stroke-dasharray="7 17.6"/>
<line x1="1433.3" y1="1631.6" x2="1433.3" y2="2256.8" stroke="#404040" stroke-width="3" stroke-dasharray="7 17.6"/>
<path d="M156.4 1760.4h0M160.9 1759.5h0M165.5 1759.8h0M170 1758.2h0M174.6 1758.4h0M179.1 1757.5h0M183.7 1756.4h0M188.2 1756.6h0M192.8 1755.3h0M197.3 1755.4h0M201.8 1754.3h0M206.4 1753.8h0M210.9 1753.8h0M215.5 1753.9h0M220 1752.3h0M224.6 1751.9h0M229.1 1752.1h0M233.6 1752.2h0M238.2 1751.2h0M242.7 1750.5h0M247.3 1751.1h0M251.8 1749.2h0M256.4 1750.1h0M260.9 1748.8h0M265.5 1748.2h0M270 1747.8h0M274.5 1747.7h0M279.1 1748.1h0M283.6 1746.7h0M288.2 1747h0M292.7 1746.7h0M297.3 1745.9h0M301.8 1745.9h0M306.4 1744.9h0M310.9 1744.6h0M315.4 1744.6h0M320 1745.1h0M324.5 1744.4h0M329.1 1744h0M333.6 1744.2h0M338.2 1743.7h0M342.7 1743.2h0M347.2 1743.7h0M351.8 1743.3h0M356.3 1742.3h0M360.9 1742.6h0M365.4 1742.3h0M370 1742.6h0M374.5 1742.2h0M379.1 1741.3h0M383.6 1742.2h0M388.1 1740.6h0M392.7 1740.9h0M397.2 1741.2h0M401.8 1740.1h0M406.3 1740.4h0M410.9 1739.5h0M415.4 1740.3h0M420 1740.3h0M424.5 1739.8h0M429 1740.1h0M433.6 1739h0M438.1 1739.4h0M442.7 1739.1h0M447.2 1738.9h0M451.8 1738.6h0M456.3 1739.1h0M460.8 1739.1h0M465.4 1738.3h0M469.9 1738.4h0M474.5 1737.3h0M479 1738.2h0M483.6 1738h0M488.1 1738.4h0M492.7 1738h0M497.2 1737.1h0M501.7 1737.1h0M506.3 1737.4h0M510.8 1736.3h0M515.4 1736.8h0M519.9 1736.2h0M524.5 1736h0M529 1735.8h0M533.6 1736.8h0M538.1 1735.7h0M542.6 1735.7h0M547.2 1735.8h0M551.7 1736.5h0M556.3 1735.1h0M560.8 1735.5h0M565.4 1735.6h0M569.9 1736h0M574.4 1735.7h0M579 1735.7h0M583.5 1734.6h0M588.1 1734.7h0M592.6 1734.5h0M597.2 1735.3h0M601.7 1735.3h0M606.3 1733.9h0M610.8 1733.8h0M615.3 1733.8h0M619.9 1733.6h0M624.4 1733.9h0M629 1734h0M633.5 1733.4h0M638.1 1732.8h0M642.6 1733.4h0M647.2 1733.2h0M651.7 1733.4h0M656.2 1733.9h0M660.8 1733.4h0M665.3 1733h0M669.9 1733h0M674.4 1733h0M679 1731.9h0M683.5 1733.1h0M688 1732.8h0M692.6 1732.9h0M697.1 1732.6h0M701.7 1731.9h0M706.2 1731.8h0M710.8 1731.2h0M715.3 1731.9h0M719.9 1730.9h0M724.4 1730.8h0M728.9 1731h0M733.5 1730.8h0M738 1731h0M742.6 1730.5h0M747.1 1730.3h0M751.7 1730.5h0M756.2 1730.3h0M760.8 1730.6h0M765.3 1730h0M769.8 1731.3h0M774.4 1730.8h0M778.9 1730h0M783.5 1730.1h0M788 1730.1h0M792.6 1730.1h0M797.1 1729.6h0M801.6 1730.7h0M806.2 1730.8h0M810.7 1729.9h0M815.3 1729.9h0M819.8 1729.2h0M824.4 1729.1h0M828.9 1729.4h0M833.5 1729.2h0M838 1730h0M842.5 1728.9h0M847.1 1728.6h0M851.6 1730h0M856.2 1729.2h0M860.7 1728.5h0M865.3 1729.1h0M869.8 1728.2h0M874.4 1729h0M878.9 1729.6h0M883.4 1729.4h0M888 1729.1h0M892.5 1728.3h0M897.1 1728.5h0M901.6 1728.1h0M906.2 1729h0M910.7 1728.6h0M915.2 1728.9h0M919.8 1728.2h0M924.3 1727.9h0M928.9 1728.8h0M933.4 1729.1h0M938 1728.8h0M942.5 1728.7h0M947.1 1728.7h0M951.6 1728.5h0M956.1 1727.6h0M960.7 1728h0M965.2 1727.7h0M969.8 1727.2h0M974.3 1727.1h0M978.9 1727.5h0M983.4 1727.4h0M988 1728h0M992.5 1728.4h0M997 1727.5h0M1001.6 1728.3h0M1006.1 1728.3h0M1010.7 1728.2h0M1015.2 1727.2h0M1019.8 1726.9h0M1024.3 1726.9h0M1028.8 1726.8h0M1033.4 1726.8h0M1037.9 1727.4h0M1042.5 1727.8h0M1047 1727.6h0M1051.6 1727h0M1056.1 1727.2h0M1060.7 1727.4h0M1065.2 1726.2h0M1069.7 1727.1h0M1074.3 1727.5h0M1078.8 1727.2h0M1083.4 1727.1h0M1087.9 1726.6h0M1092.5 1726.1h0M1097 1727h0M1101.6 1726.2h0M1106.1 1726.9h0M1110.6 1727.2h0M1115.2 1726.2h0M1119.7 1726.2h0M1124.3 1727h0M1128.8 1726.6h0M1133.4 1725.7h0M1137.9 1725.5h0M1142.4 1725.5h0M1147 1726.7h0M1151.5 1726.5h0M1156.1 1725.4h0M1160.6 1726.4h0M1165.2 1726.6h0M1169.7 1726h0M1174.3 1725.5h0M1178.8 1725.7h0M1183.3 1725h0M1187.9 1724.8h0M1192.4 1726.3h0M1197 1725.7h0M1201.5 1725.4h0M1206.1 1726h0M1210.6 1725.2h0M1215.2 1725.8h0M1219.7 1725.7h0M1224.2 1724.7h0M1228.8 1724.7h0M1233.3 1724.7h0M1237.9 1724.5h0M1242.4 1725h0M1247 1724.5h0M1251.5 1724.7h0M1256 1724.1h0M1260.6 1725.3h0M1265.1 1724.4h0M1269.7 1724.5h0M1274.2 1724.7h0M1278.8 1725.1h0M1283.3 1724.3h0M1287.9 1725h0M1292.4 1724.3h0M1296.9 1724.3h0M1301.5 1724.2h0M1306 1723.4h0M1310.6 1724h0M1315.1 1723.5h0M1319.7 1723.2h0M1324.2 1724.4h0M1328.8 1723.3h0M1333.3 1723.8h0M1337.8 1724.1h0M1342.4 1723.8h0M1346.9 1723.4h0M1351.5 1723.6h0M1356 1723.6h0M1360.6 1723.9h0M1365.1 1722.8h0M1369.6 1723.5h0M1374.2 1722.9h0M1378.7 1722.9h0M1383.3 1723.6h0M1387.8 1723.2h0M1392.4 1723.2h0M1396.9 1723.5h0M1401.5 1723.7h0M1406 1722.8h0M1410.5 1723.1h0M1415.1 1722.8h0M1419.6 1722.8h0M1424.2 1723h0M1428.7 1722.6h0M1433.3 1722.7h0M1437.8 1722.5h0M1442.4 1723.3h0M1446.9 1722.8h0M1451.4 1723.1h0M1456 1723.2h0M1460.5 1722h0M1465.1 1722.5h0M1469.6 1723.1h0M1474.2 1722.9h0M1478.7 1721.7h0M1483.2 1721.7h0M1487.8 1722.2h0M1492.3 1721.5h0M1496.9 1721.8h0M1501.4 1721.5h0M1506 1722.4h0M1510.5 1722.6h0M1515.1 1722.7h0M1519.6 1721.5h0M1524.1 1722.4h0M1528.7 1722.3h0M1533.2 1721.4h0M1537.8 1722.6h0M1542.3 1722.7h0M1546.9 1721.4h0M1551.4 1722.6h0M1556 1721.7h0M1560.5 1721.8h0M1565 1722.6h0M1569.6 1722.3h0M1574.1 1721.2h0M1578.7 1721.6h0M1583.2 1721.7h0M1587.8 1721.4h0M1592.3 1721.1h0M1596.8 1721.3h0M1601.4 1721.9h0M1605.9 1720.8h0M1610.5 1721.6h0M1615 1721.4h0M1619.6 1720.7h0M1624.1 1721.2h0M1628.7 1721.6h0M1633.2 1721.4h0M1637.7 1720.7h0M1642.3 1722.2h0M1646.8 1721.8h0M1651.4 1722.1h0M1655.9 1720.7h0M1660.5 1720.9h0M1665 1720.5h0M1669.6 1721.7h0M1674.1 1720.9h0M1678.6 1720.6h0M1683.2 1721h0M1687.7 1721.8h0M1692.3 1721.6h0M1696.8 1720.7h0M1701.4 1720.5h0M1705.9 1721.7h0M1710.4 1721.2h0M1715 1721.3h0M1719.5 1720.3h0M1724.1 1720.3h0M1728.6 1721.3h0M1733.2 1720.8h0M1737.7 1720.2h0M1742.3 1721.6h0M1746.8 1721.1h0M1751.3 1721.3h0M1755.9 1720.2h0M1760.4 1721.4h0M1765 1720.1h0M1769.5 1721.4h0M1774.1 1720.7h0M1778.6 1720.5h0M1783.2 1720.8h0M1787.7 1721.4h0M1792.2 1720.3h0M1796.8 1720.1h0M1801.3 1720.7h0M1805.9 1720.2h0M1810.4 1720h0M1815 1720h0M1819.5 1719.8h0M1824 1720.1h0M1828.6 1720.2h0M1833.1 1720.2h0M1837.7 1720.9h0M1842.2 1720.1h0M1846.8 1720.4h0M1851.3 1719.9h0" stroke="#0a7a0a" stroke-width="9" stroke-linecap="round" fill="none"/>
<path d="M156.4 1972.7h0M159 1972.1h0M161.5 1972.2h0M164.1 1971.8h0M166.6 1972.9h0M169.2 1973.4h0M171.7 1973.2h0M174.3 1973.6h0M176.8 1974.8h0M179.4 1974.2h0M182 1975.2h0M184.5 1975.2h0M187.1 1975.4h0M189.6 1976.2h0M192.2 1976h0M194.7 1976.2h0M197.3 1976.7h0M199.9 1977.6h0M202.4 1977.2h0M205 1977.8h0M207.5 1978.1h0M210.1 1978.2h0M212.6 1978h0M215.2 1977.6h0M217.7 1976.8h0M220.3 1976.3h0M222.9 1975.9h0M225.4 1976.8h0M228 1976.6h0M230.5 1976.2h0M233.1 1975.9h0M235.6 1977h0M238.2 1977.8h0M240.7 1978h0M243.3 1977.5h0M245.9 1977h0M248.4 1976.8h0M251 1976.9h0M253.5 1976.5h0M256.1 1976.7h0M258.6 1976.5h0M261.2 1977.6h0M263.8 1978.4h0M266.3 1978.1h0M268.9 1977.4h0M271.4 1978.2h0M274 1977.6h0M276.5 1977.2h0M279.1 1976.3h0M281.6 1976.3h0M284.2 1976.5h0M286.8 1976.7h0M289.3 1976.2h0M291.9 1976.5h0M294.4 1975.7h0M297 1975.7h0M299.5 1975.3h0M302.1 1975.7h0M304.6 1975.3h0M307.2 1975.1h0M309.8 1975.4h0M312.3 1975.5h0M314.9 1976.2h0M317.4 1976.6h0M320 1977.3h0M322.5 1977.7h0M325.1 1978h0M327.7 1978.6h0M330.2 1978.2h0M332.8 1977.8h0M335.3 1978.7h0M337.9 1977.9h0M340.4 1978.4h0M343 1978.6h0M345.5 1977.7h0M348.1 1978.5h0M350.7 1979.2h0M353.2 1979.3h0M355.8 1979.5h0M358.3 1979.8h0M360.9 1978.9h0M363.4 1979h0M366 1979h0M368.5 1979.6h0M371.1 1980h0M373.7 1980.4h0M376.2 1980.2h0M378.8 1980.7h0M381.3 1980.7h0M383.9 1980.7h0M386.4 1979.9h0M389 1979.1h0M391.6 1978.6h0M394.1 1978.8h0M396.7 1978.5h0M399.2 1979.6h0M401.8 1979.9h0M404.3 1980.3h0M406.9 1980.7h0M409.4 1981.1h0M412 1981h0M414.6 1980.2h0M417.1 1981.1h0M419.7 1981.6h0M422.2 1981.6h0M424.8 1981.7h0M427.3 1982.1h0M429.9 1981.3h0M432.4 1982h0M435 1981.7h0M437.6 1981.2h0M440.1 1981.2h0M442.7 1982.1h0M445.2 1981.8h0M447.8 1982.6h0M450.3 1983.7h0M452.9 1983.6h0M455.5 1983.4h0M458 1983.4h0M460.6 1983.9h0M463.1 1984.4h0M465.7 1984.6h0M468.2 1984.7h0M470.8 1983.9h0M473.3 1983.4h0M475.9 1983.4h0M478.5 1984.2h0M481 1984.1h0M483.6 1984.5h0M486.1 1983.8h0M488.7 1983.5h0M491.2 1983.6h0M493.8 1984.5h0M496.3 1985.2h0M498.9 1985.7h0M501.5 1985.4h0M504 1985.6h0M506.6 1985.7h0M509.1 1985.9h0M511.7 1985.3h0M514.2 1986.4h0M516.8 1986h0M519.4 1987.1h0M521.9 1987.8h0M524.5 1986.7h0M527 1986.8h0M529.6 1987.5h0M532.1 1988.4h0M534.7 1988.1h0M537.2 1987.5h0M539.8 1987.1h0M542.4 1988.2h0M544.9 1987.6h0M547.5 1988h0M550 1987.4h0M552.6 1987.8h0M555.1 1988.9h0M557.7 1988.2h0M560.2 1989h0M562.8 1989h0M565.4 1989.7h0M567.9 1990h0M570.5 1989.3h0M573 1990.1h0M575.6 1989.9h0M578.1 1989h0M580.7 1988.4h0M583.3 1988.8h0M585.8 1989h0M588.4 1988.9h0M590.9 1988.5h0M593.5 1988.7h0M596 1988.7h0M598.6 1989.7h0M601.1 1988.9h0M603.7 1989.6h0M606.3 1990.3h0M608.8 1989.6h0M611.4 1990.5h0M613.9 1990.7h0M616.5 1991.3h0M619 1990.5h0M621.6 1990.2h0M624.1 1990h0M626.7 1990.9h0M629.3 1990.9h0M631.8 1990.4h0M634.4 1990.2h0M636.9 1989.8h0M639.5 1989.2h0M642 1988.8h0M644.6 1989.9h0M647.2 1989.6h0M649.7 1990.6h0M652.3 1990.1h0M654.8 1989.8h0M657.4 1990h0M659.9 1989.6h0M662.5 1989.6h0M665 1990.7h0M667.6 1991.4h0M670.2 1991.7h0M672.7 1991.7h0M675.3 1992.2h0M677.8 1992.6h0M680.4 1992.2h0M682.9 1992.3h0M685.5 1991.1h0M688 1991.6h0M690.6 1991.4h0M693.2 1991.9h0M695.7 1992h0M698.3 1991.5h0M700.8 1990.7h0M703.4 1991.8h0M705.9 1991.1h0M708.5 1991.3h0M711.1 1991.2h0M713.6 1991h0M716.2 1991.8h0M718.7 1992.7h0M721.3 1992.1h0M723.8 1992.4h0M726.4 1992.1h0M728.9 1992.3h0M731.5 1992.1h0M734.1 1991.7h0M736.6 1991.3h0M739.2 1991.2h0M741.7 1992.4h0M744.3 1992.5h0M746.8 1992.1h0M749.4 1993.1h0M751.9 1994h0M754.5 1993.6h0M757.1 1992.9h0M759.6 1992.4h0M762.2 1992h0M764.7 1992.1h0M767.3 1991.8h0M769.8 1991.8h0M772.4 1991.9h0M775 1992.6h0M777.5 1993.6h0M780.1 1994.1h0M782.6 1994.2h0M785.2 1994.5h0M787.7 1995.1h0M790.3 1995.4h0M792.8 1995.7h0M795.4 1995.6h0M798 1996.1h0M800.5 1997.8h0M803.1 1997.7h0M805.6 1998.4h0M808.2 1999.3h0M810.7 2000.5h0M813.3 2000.4h0M815.8 2000.5h0M818.4 2000.7h0M821 2000.3h0M823.5 1999.9h0M826.1 2000.5h0M828.6 2000.6h0M831.2 2000.5h0M833.7 1998.8h0M836.3 1997.5h0M838.9 1997.7h0M841.4 1998h0M844 1997.3h0M846.5 1997h0M849.1 1995.6h0M851.6 1995.2h0M854.2 1995.8h0M856.7 1995.9h0M859.3 1995.9h0M861.9 1996.4h0M864.4 1995.8h0M867 1995.3h0M869.5 1995.1h0M872.1 1995.7h0M874.6 1996.6h0M877.2 1997.8h0M879.7 1998.3h0M882.3 1998.4h0M884.9 1998.5h0M887.4 1998.1h0M890 1997.9h0M892.5 1996.8h0M895.1 1997.4h0M897.6 1996.8h0M900.2 1997.6h0M902.8 1997.7h0M905.3 1997.1h0M907.9 1996.3h0M910.4 1996h0M913 1996.5h0M915.5 1996.9h0M918.1 1996.1h0M920.6 1995.4h0M923.2 1995.8h0M925.8 1996.1h0M928.3 1996h0M930.9 1995.6h0M933.4 1996h0M936 1995.2h0M938.5 1995.1h0M941.1 1995.3h0M943.6 1996.4h0M946.2 1996.5h0M948.8 1997h0M951.3 1996.6h0M953.9 1995.9h0M956.4 1995.5h0M959 1996.4h0M961.5 1996.6h0M964.1 1996h0M966.7 1995.1h0M969.2 1995.3h0M971.8 1995.7h0M974.3 1995.5h0M976.9 1995.1h0M979.4 1995.6h0M982 1996.3h0M984.5 1995.6h0M987.1 1994.7h0M989.7 1994.7h0M992.2 1994.8h0M994.8 1995.4h0M997.3 1995.5h0M999.9 1996.8h0M1002.4 1997.8h0M1005 1998.3h0M1007.5 1998.2h0M1010.1 1999.7h0M1012.7 1999.8h0M1015.2 2000.9h0M1017.8 2000.8h0M1020.3 2000.8h0M1022.9 2002h0M1025.4 2002.1h0M1028 2003.5h0M1030.6 2003.9h0M1033.1 2003.7h0M1035.7 2003.9h0M1038.2 2004.5h0M1040.8 2005.5h0M1043.3 2006.7h0M1045.9 2005.6h0M1048.4 2005.3h0M1051 2004.7h0M1053.6 2005.6h0M1056.1 2004.7h0M1058.7 2003.8h0M1061.2 2003.2h0M1063.8 2003.3h0M1066.3 2004.3h0M1068.9 2005.1h0M1071.4 2005.4h0M1074 2006.1h0M1076.6 2006.5h0M1079.1 2005.7h0M1081.7 2004.8h0M1084.2 2005.6h0M1086.8 2005.9h0M1089.3 2004.7h0M1091.9 2005.1h0M1094.5 2004.9h0M1097 2004.7h0M1099.6 2004.5h0M1102.1 2004h0M1104.7 2003.3h0M1107.2 2003.3h0M1109.8 2003.4h0M1112.3 2004.5h0M1114.9 2003.8h0M1117.5 2004.7h0M1120 2004h0M1122.6 2003.8h0M1125.1 2004.4h0M1127.7 2004.8h0M1130.2 2004.4h0M1132.8 2004h0M1135.3 2004.6h0M1137.9 2005.1h0M1140.5 2006.6h0M1143 2006.4h0M1145.6 2006.8h0M1148.1 2008.2h0M1150.7 2007.8h0M1153.2 2008.4h0M1155.8 2009.7h0M1158.4 2010.7h0M1160.9 2010.2h0M1163.5 2010h0M1166 2010.1h0M1168.6 2011.9h0M1171.1 2012.2h0M1173.7 2013.4h0M1176.2 2014.6h0M1178.8 2014.7h0M1181.4 2013.9h0M1183.9 2014.5h0M1186.5 2014.2h0M1189 2013.2h0M1191.6 2013.3h0M1194.1 2012.5h0M1196.7 2011.8h0M1199.2 2010.9h0M1201.8 2012h0M1204.4 2013.1h0M1206.9 2013.5h0M1209.5 2014.4h0M1212 2013.4h0M1214.6 2013.2h0M1217.1 2013.6h0M1219.7 2014.8h0M1222.3 2015.7h0M1224.8 2015.4h0M1227.4 2015.1h0M1229.9 2015.2h0M1232.5 2015.5h0M1235 2016.6h0M1237.6 2016.1h0M1240.1 2016.9h0M1242.7 2017.5h0M1245.3 2018.1h0M1247.8 2018.5h0M1250.4 2018.6h0M1252.9 2018.3h0M1255.5 2018.1h0M1258 2018.1h0M1260.6 2019h0M1263.1 2018.4h0M1265.7 2018h0M1268.3 2018.7h0M1270.8 2018.2h0M1273.4 2017.5h0M1275.9 2016.9h0M1278.5 2017.4h0M1281 2017.3h0M1283.6 2018.4h0M1286.2 2019h0M1288.7 2019.5h0M1291.3 2018.6h0M1293.8 2017.8h0M1296.4 2017.4h0M1298.9 2018h0M1301.5 2018.9h0M1304 2019.1h0M1306.6 2018.9h0M1309.2 2019.2h0M1311.7 2019.9h0M1314.3 2020.5h0M1316.8 2021.2h0M1319.4 2021.9h0M1321.9 2022.1h0M1324.5 2021.4h0M1327 2022.3h0M1329.6 2022h0M1332.2 2022.4h0M1334.7 2022.4h0M1337.3 2023.1h0M1339.8 2022.7h0M1342.4 2022.6h0M1344.9 2022.6h0M1347.5 2022.6h0M1350.1 2023.8h0M1352.6 2023.9h0M1355.2 2023.5h0M1357.7 2023.4h0M1360.3 2024.3h0M1362.8 2024.1h0M1365.4 2023.4h0M1367.9 2024h0M1370.5 2024.1h0M1373.1 2024.7h0M1375.6 2023.6h0M1378.2 2023.4h0M1380.7 2023.9h0M1383.3 2024.3h0M1385.8 2024.6h0M1388.4 2023.3h0M1390.9 2022.8h0M1393.5 2022.5h0M1396.1 2022.7h0M1398.6 2024.3h0M1401.2 2024.9h0M1403.7 2026.1h0M1406.3 2026.1h0M1408.8 2027.1h0M1411.4 2027.2h0M1414 2027.1h0M1416.5 2028.1h0M1419.1 2029.3h0M1421.6 2028.7h0M1424.2 2029.3h0M1426.7 2029.9h0M1429.3 2029.8h0M1431.8 2030.1h0M1434.4 2030.1h0M1437 2029.4h0M1439.5 2028.8h0M1442.1 2028.9h0M1444.6 2029h0M1447.2 2028.1h0M1449.7 2026.9h0M1452.3 2026.6h0M1454.8 2026.8h0M1457.4 2026h0M1460 2025.5h0M1462.5 2024.8h0M1465.1 2025.7h0M1467.6 2025.9h0M1470.2 2025.1h0M1472.7 2024.7h0M1475.3 2024.9h0M1477.9 2025.3h0M1480.4 2025.8h0M1483 2025.1h0M1485.5 2024.8h0M1488.1 2025.5h0M1490.6 2025.5h0M1493.2 2025.2h0M1495.7 2025.1h0M1498.3 2026.2h0M1500.9 2025.8h0M1503.4 2026h0M1506 2025.7h0M1508.5 2025.3h0M1511.1 2025.7h0M1513.6 2026.1h0M1516.2 2025.2h0M1518.7 2024.1h0M1521.3 2024.3h0M1523.9 2023.3h0M1526.4 2022.2h0M1529 2022.9h0M1531.5 2022.5h0M1534.1 2022.8h0M1536.6 2022.1h0M1539.2 2022.4h0M1541.8 2021.8h0M1544.3 2020.7h0M1546.9 2019.6h0M1549.4 2020h0M1552 2020.6h0M1554.5 2021.7h0M1557.1 2021h0M1559.6 2021.5h0M1562.2 2021.5h0M1564.8 2021.8h0M1567.3 2021.5h0M1569.9 2021.5h0M1572.4 2022h0M1575 2023.2h0M1577.5 2022.8h0M1580.1 2023.6h0M1582.6 2024.8h0M1585.2 2026.2h0M1587.8 2026h0M1590.3 2025.9h0M1592.9 2027.5h0M1595.4 2028.8h0M1598 2029.1h0M1600.5 2028.7h0M1603.1 2030.2h0M1605.7 2030.1h0M1608.2 2030.3h0M1610.8 2029.8h0M1613.3 2029.7h0M1615.9 2028.3h0M1618.4 2028.3h0M1621 2027.1h0M1623.5 2026.5h0M1626.1 2026.7h0M1628.7 2026.7h0M1631.2 2025.4h0M1633.8 2024.6h0M1636.3 2024.9h0M1638.9 2025.5h0M1641.4 2025.7h0M1644 2025.5h0M1646.5 2025.7h0M1649.1 2026.8h0M1651.7 2028h0M1654.2 2027.4h0M1656.8 2028.1h0M1659.3 2029h0M1661.9 2028.4h0M1664.4 2029.2h0M1667 2028.5h0M1669.6 2028.9h0M1672.1 2029.1h0M1674.7 2029.4h0M1677.2 2029.1h0M1679.8 2029h0M1682.3 2029.3h0M1684.9 2029.2h0M1687.4 2029.6h0" stroke="#ff0000" stroke-width="11.5" stroke-linecap="round" fill="none"/>
<path d="M156.4 2207.7h0M158 2205.9h0M159.5 2200.9h0M161.1 2204h0M162.6 2201.2h0M164.2 2197.5h0M165.8 2200h0M167.3 2198.4h0M168.9 2195.5h0M170.5 2204.5h0M172 2201.5h0M173.6 2201.5h0M175.1 2203.8h0M176.7 2201h0M178.3 2203.7h0M179.8 2204.1h0M181.4 2200.2h0M183 2209.5h0M184.5 2215h0M186.1 2214.5h0M187.6 2211.2h0M189.2 2206.4h0M190.8 2208.9h0M192.3 2206.8h0M193.9 2210.2h0M195.4 2202.6h0M197 2207.2h0M198.6 2207.2h0M200.1 2204h0M201.7 2207.1h0M203.3 2212.4h0M204.8 2207.4h0M206.4 2210.1h0M207.9 2208h0M209.5 2198.4h0M211.1 2199.7h0M212.6 2197.2h0M214.2 2189.6h0M215.8 2192.9h0M217.3 2197.2h0M218.9 2193.4h0M220.4 2200.4h0M222 2208.4h0M223.6 2201.6h0M225.1 2203h0M226.7 2204.8h0M228.3 2197.7h0M229.8 2196.6h0M231.4 2197.1h0M232.9 2194.1h0M234.5 2199.6h0M236.1 2197.6h0M237.6 2201.9h0M239.2 2198h0M240.7 2197.9h0M242.3 2190.8h0M243.9 2198.2h0M245.4 2201.8h0M247 2202.9h0M248.6 2200.9h0M250.1 2205.2h0M251.7 2202.9h0M253.2 2203.4h0M254.8 2206.1h0M256.4 2199.4h0M257.9 2204.9h0M259.5 2200.3h0M261.1 2196.8h0M262.6 2198.4h0M264.2 2206.6h0M265.7 2201.3h0M267.3 2197.6h0M268.9 2198.8h0M270.4 2194.2h0M272 2190.3h0M273.6 2193h0M275.1 2185.6h0M276.7 2193.5h0M278.2 2195.1h0M279.8 2196.5h0M281.4 2191.8h0M282.9 2191h0M284.5 2186.8h0M286 2182.8h0M287.6 2181.6h0M289.2 2181.1h0M290.7 2183.4h0M292.3 2180.5h0M293.9 2181.6h0M295.4 2185.8h0M297 2189.7h0M298.5 2193.7h0M300.1 2189.2h0M301.7 2189.7h0M303.2 2193.1h0M304.8 2190.4h0M306.4 2190.2h0M307.9 2198.2h0M309.5 2196.2h0M311 2191h0M312.6 2192.3h0M314.2 2189h0M315.7 2184.2h0M317.3 2188.6h0M318.8 2180.9h0M320.4 2186.2h0M322 2189.4h0M323.5 2191h0M325.1 2189.9h0M326.7 2186.6h0M328.2 2185.2h0M329.8 2182.8h0M331.3 2195.2h0M332.9 2193.6h0M334.5 2196.1h0M336 2194.7h0M337.6 2198.8h0M339.2 2197.3h0M340.7 2193.6h0M342.3 2197.7h0M343.8 2189.4h0M345.4 2192h0M347 2189.6h0M348.5 2186.8h0M350.1 2198.2h0M351.6 2190.1h0M353.2 2192.4h0M354.8 2193.5h0M356.3 2185h0M357.9 2183.5h0M359.5 2191.9h0M361 2191.6h0M362.6 2191.6h0M364.1 2186.2h0M365.7 2190.1h0M367.3 2192.9h0M368.8 2193.7h0M370.4 2200.7h0M372 2198.6h0M373.5 2196.9h0M375.1 2190h0M376.6 2202.7h0M378.2 2199.3h0M379.8 2200.4h0M381.3 2197h0M382.9 2194.1h0M384.5 2192h0M386 2191.9h0M387.6 2189.3h0M389.1 2190.6h0M390.7 2192.8h0M392.3 2191.2h0M393.8 2191.3h0M395.4 2189.1h0M396.9 2184.5h0M398.5 2191.5h0M400.1 2192.5h0M401.6 2187.4h0M403.2 2182.3h0M404.8 2183.6h0M406.3 2184.3h0M407.9 2174.3h0M409.4 2178.4h0M411 2167.3h0M412.6 2167.3h0M414.1 2164.5h0M415.7 2175.4h0M417.3 2171h0M418.8 2164.4h0M420.4 2167.5h0M421.9 2169.3h0M423.5 2176.7h0M425.1 2191.7h0M426.6 2194.4h0M428.2 2192.8h0M429.7 2190.3h0M431.3 2191.2h0M432.9 2183.9h0M434.4 2185.4h0M436 2189.7h0M437.6 2183.3h0M439.1 2183.9h0M440.7 2180.1h0M442.2 2175.3h0M443.8 2172.1h0M445.4 2174h0M446.9 2168.6h0M448.5 2178.9h0M450.1 2173.2h0M451.6 2174h0M453.2 2176.7h0M454.7 2187.2h0M456.3 2187.2h0M457.9 2186.2h0M459.4 2181.5h0M461 2183.2h0M462.6 2177.8h0M464.1 2173.6h0M465.7 2169.1h0M467.2 2157.6h0M468.8 2158h0M470.4 2160.5h0M471.9 2169.7h0M473.5 2174.4h0M475 2179.8h0M476.6 2190.3h0M478.2 2191.5h0M479.7 2189.6h0M481.3 2179.1h0M482.9 2177.9h0M484.4 2174.8h0M486 2171.9h0M487.5 2184.4h0M489.1 2181h0M490.7 2181.3h0M492.2 2177.7h0M493.8 2172.6h0M495.4 2169.1h0M496.9 2167.5h0M498.5 2175.3h0M500 2171.7h0M501.6 2174.7h0M503.2 2177.6h0M504.7 2175.5h0M506.3 2179.7h0M507.8 2181.8h0M509.4 2188.7h0M511 2185.9h0M512.5 2190h0M514.1 2183h0M515.7 2184.2h0M517.2 2179.5h0M518.8 2171.3h0M520.3 2172.8h0M521.9 2170.7h0M523.5 2171.7h0M525 2165.1h0M526.6 2168.6h0M528.2 2171h0M529.7 2178.7h0M531.3 2172.1h0M532.8 2180.6h0M534.4 2175.3h0M536 2174.8h0M537.5 2178h0M539.1 2184.8h0M540.7 2185.9h0M542.2 2173.4h0M543.8 2175.5h0M545.3 2182.2h0M546.9 2173.2h0M548.5 2173.5h0M550 2169.3h0M551.6 2171.3h0M553.1 2162.8h0M554.7 2168.6h0M556.3 2163.2h0M557.8 2163.6h0M559.4 2169.6h0M561 2170.9h0M562.5 2177.4h0M564.1 2173h0M565.6 2181.2h0M567.2 2181.4h0M568.8 2178.3h0M570.3 2163.4h0M571.9 2155.8h0M573.5 2158.3h0M575 2160.4h0M576.6 2165.4h0M578.1 2175.6h0M579.7 2169.2h0M581.3 2173.3h0M582.8 2212.1h0M584.4 2216.2h0M585.9 2212.1h0M587.5 2210.1h0M589.1 2213.2h0M590.6 2207.1h0M592.2 2207.9h0M593.8 2207.5h0M595.3 2208.4h0M596.9 2207.3h0M598.4 2212.8h0M600 2210.8h0M601.6 2207.7h0M603.1 2211.5h0M604.7 2208.3h0M606.3 2207.2h0M607.8 2200.9h0M609.4 2201.3h0M610.9 2202.2h0M612.5 2198.9h0M614.1 2193.5h0M615.6 2194.5h0M617.2 2203.7h0M618.8 2206.4h0M620.3 2210.4h0M621.9 2216.7h0M623.4 2216.5h0M625 2208.7h0M626.6 2206.4h0M628.1 2204.8h0M629.7 2203.2h0M631.2 2202.4h0M632.8 2197.3h0M634.4 2196.3h0M635.9 2192.9h0M637.5 2196.9h0M639.1 2198h0M640.6 2204.6h0M642.2 2197.6h0M643.7 2199.8h0M645.3 2204.6h0M646.9 2203h0M648.4 2202.4h0M650 2200h0M651.6 2198h0M653.1 2201.5h0M654.7 2195.1h0M656.2 2193.3h0M657.8 2192.1h0M659.4 2200.4h0M660.9 2200h0M662.5 2195.7h0M664 2190.6h0M665.6 2189.4h0M667.2 2186.7h0M668.7 2196.9h0M670.3 2194.3h0M671.9 2196h0M673.4 2196.3h0M675 2191.4h0M676.5 2191.5h0M678.1 2191.9h0M679.7 2198h0M681.2 2203.3h0M682.8 2206h0M684.4 2206.5h0M685.9 2205h0M687.5 2204.7h0M689 2201.8h0M690.6 2200h0M692.2 2197h0M693.7 2194.4h0M695.3 2202h0M696.9 2203.1h0M698.4 2204.4h0M700 2202.3h0M701.5 2200.1h0M703.1 2195.5h0M704.7 2195.4h0M706.2 2194.1h0M707.8 2193.8h0M709.3 2190.6h0M710.9 2191.2h0M712.5 2191.8h0M714 2198.9h0M715.6 2197.9h0M717.2 2192.9h0M718.7 2191.7h0M720.3 2193.6h0M721.8 2184.2h0M723.4 2186.3h0M725 2181.3h0M726.5 2196.9h0M728.1 2192.3h0M729.7 2187.7h0M731.2 2190.3h0M732.8 2188.8h0M734.3 2189h0M735.9 2186.1h0M737.5 2185.9h0M739 2186.1h0M740.6 2182h0M742.1 2179.6h0M743.7 2182.3h0M745.3 2174.8h0M746.8 2185.1h0M748.4 2186.4h0M750 2179.7h0M751.5 2184.9h0M753.1 2179h0M754.6 2179.1h0M756.2 2183.3h0M757.8 2186.7h0M759.3 2182.3h0M760.9 2181h0M762.5 2176.5h0M764 2174.2h0M765.6 2176.5h0M767.1 2171.5h0M768.7 2172.8h0M770.3 2171.6h0M771.8 2165.5h0M773.4 2160.2h0M775 2162.1h0M776.5 2156h0M778.1 2151.8h0M779.6 2179.6h0M781.2 2196h0M782.8 2193.4h0M784.3 2191h0M785.9 2190.6h0M787.4 2186.7h0M789 2191.5h0M790.6 2197.1h0M792.1 2195.5h0M793.7 2192.5h0M795.3 2186.7h0M796.8 2182.2h0M798.4 2181.2h0M799.9 2174.8h0M801.5 2177.5h0M803.1 2170.6h0M804.6 2177.8h0M806.2 2177.3h0M807.8 2174.8h0M809.3 2174.8h0M810.9 2171.4h0M812.4 2168.5h0M814 2172.8h0M815.6 2168.3h0M817.1 2169.5h0M818.7 2171.4h0M820.2 2174.3h0M821.8 2175.3h0M823.4 2178.4h0M824.9 2180h0M826.5 2194.2h0M828.1 2191.3h0M829.6 2182.3h0M831.2 2185.8h0M832.7 2183.8h0M834.3 2180.1h0M835.9 2172.3h0M837.4 2175.2h0M839 2171.4h0M840.6 2174.8h0M842.1 2179.8h0M843.7 2174.9h0M845.2 2169.1h0M846.8 2165.3h0M848.4 2163.1h0M849.9 2176.3h0M851.5 2170.8h0M853.1 2167.3h0M854.6 2171.6h0M856.2 2168.9h0M857.7 2162.2h0M859.3 2166.2h0M860.9 2162.2h0M862.4 2171.5h0M864 2172h0M865.5 2170h0M867.1 2169.1h0M868.7 2162.8h0M870.2 2165.5h0M871.8 2162.9h0M873.4 2163.4h0M874.9 2159.7h0M876.5 2162.1h0M878 2158.2h0M879.6 2154.6h0M881.2 2153.1h0M882.7 2164h0M884.3 2158.4h0M885.9 2159.5h0M887.4 2154.8h0M889 2155.4h0M890.5 2153.3h0M892.1 2151.5h0M893.7 2155.5h0M895.2 2160.6h0M896.8 2155.7h0M898.3 2154.5h0M899.9 2153.4h0M901.5 2152.8h0M903 2147.1h0M904.6 2145.5h0M906.2 2147.9h0M907.7 2138.8h0M909.3 2143.3h0M910.8 2151.9h0M912.4 2155.6h0M914 2168.9h0M915.5 2185h0M917.1 2178.6h0M918.7 2182.2h0M920.2 2176.8h0M921.8 2174.9h0M923.3 2176.6h0M924.9 2168.1h0M926.5 2171.9h0M928 2169.6h0M929.6 2165.4h0M931.2 2167.3h0M932.7 2161.1h0M934.3 2170.5h0M935.8 2170h0M937.4 2163.1h0M939 2162.5h0M940.5 2160h0M942.1 2158.7h0M943.6 2158.5h0M945.2 2151.8h0M946.8 2153.7h0M948.3 2147.9h0M949.9 2154.7h0M951.5 2154.2h0M953 2158.4h0M954.6 2156.7h0M956.1 2158.5h0M957.7 2155.7h0M959.3 2156.3h0M960.8 2157h0M962.4 2160.1h0M964 2158.4h0M965.5 2155.8h0M967.1 2162.5h0M968.6 2159.4h0M970.2 2152.2h0M971.8 2144.6h0M973.3 2147.1h0M974.9 2145.3h0M976.4 2163.4h0M978 2161.7h0M979.6 2162.9h0M981.1 2162.1h0M982.7 2160.3h0M984.3 2155.2h0M985.8 2152.5h0M987.4 2149.8h0M988.9 2157.9h0M990.5 2156.3h0M992.1 2150.1h0M993.6 2150.9h0M995.2 2146.3h0M996.8 2145.9h0M998.3 2137.7h0M999.9 2135.5h0M1001.4 2146.2h0M1003 2161.4h0M1004.6 2160.5h0M1006.1 2156.5h0M1007.7 2166.1h0M1009.3 2215.3h0M1010.8 2212.8h0M1012.4 2209.7h0M1013.9 2208.7h0M1015.5 2208.2h0M1017.1 2206.4h0M1018.6 2205.8h0M1020.2 2205.8h0M1021.7 2206.2h0M1023.3 2208.8h0M1024.9 2205.8h0M1026.4 2206.5h0M1028 2210.8h0M1029.6 2209.6h0M1031.1 2211.9h0M1032.7 2209.2h0M1034.2 2206.8h0M1035.8 2209.2h0M1037.4 2210.2h0M1038.9 2211.3h0M1040.5 2210.5h0M1042.1 2206.5h0M1043.6 2208.2h0M1045.2 2210.3h0M1046.7 2206.5h0M1048.3 2204.9h0M1049.9 2202.9h0M1051.4 2201.5h0M1053 2204.1h0M1054.5 2199.2h0M1056.1 2202.7h0M1057.7 2195.9h0M1059.2 2200.1h0M1060.8 2198h0M1062.4 2200.9h0M1063.9 2196.6h0M1065.5 2198.7h0M1067 2196.5h0M1068.6 2196.8h0M1070.2 2202.2h0M1071.7 2202.9h0M1073.3 2204.9h0M1074.9 2203.7h0M1076.4 2198.8h0M1078 2201.1h0M1079.5 2200.5h0M1081.1 2206.1h0M1082.7 2200.9h0M1084.2 2204h0M1085.8 2201.4h0M1087.4 2196h0M1088.9 2194.9h0M1090.5 2197.5h0M1092 2197.4h0M1093.6 2191.8h0M1095.2 2192.1h0M1096.7 2195.4h0M1098.3 2198.6h0M1099.8 2195.4h0M1101.4 2191.9h0M1103 2192.8h0M1104.5 2193h0M1106.1 2191.3h0M1107.7 2191.7h0M1109.2 2188.2h0M1110.8 2191.8h0M1112.3 2188.9h0M1113.9 2190.2h0M1115.5 2189.9h0M1117 2193.5h0M1118.6 2195.4h0M1120.2 2196h0M1121.7 2194.6h0M1123.3 2192.3h0M1124.8 2189.6h0M1126.4 2187.1h0M1128 2191.5h0M1129.5 2188.7h0M1131.1 2188.4h0M1132.6 2191.4h0M1134.2 2192.5h0M1135.8 2190.5h0M1137.3 2188.1h0M1138.9 2185.4h0M1140.5 2185.3h0M1142 2187.1h0M1143.6 2183.1h0M1145.1 2184.1h0M1146.7 2189.8h0M1148.3 2188.5h0M1149.8 2184.5h0M1151.4 2182.1h0M1153 2182.9h0M1154.5 2183.1h0M1156.1 2183.3h0M1157.6 2185h0M1159.2 2185.8h0M1160.8 2181.1h0M1162.3 2186.2h0M1163.9 2191.8h0M1165.5 2190.5h0M1167 2189.1h0M1168.6 2191.6h0M1170.1 2189.9h0M1171.7 2187.7h0M1173.3 2187.5h0M1174.8 2182.7h0M1176.4 2179.6h0M1177.9 2180.9h0M1179.5 2181.3h0M1181.1 2177h0M1182.6 2179.7h0M1184.2 2181h0M1185.8 2182.6h0M1187.3 2182.3h0M1188.9 2180.4h0M1190.4 2178.3h0M1192 2177.9h0M1193.6 2180.3h0M1195.1 2179.9h0M1196.7 2177.2h0M1198.3 2174.4h0M1199.8 2178h0M1201.4 2177.2h0M1202.9 2173.3h0M1204.5 2174.8h0M1206.1 2181h0M1207.6 2178.1h0M1209.2 2176.6h0M1210.7 2176.2h0M1212.3 2172.6h0M1213.9 2171.5h0M1215.4 2170.3h0M1217 2172.3h0M1218.6 2169.1h0M1220.1 2169.2h0M1221.7 2167.3h0M1223.2 2168h0M1224.8 2165.7h0M1226.4 2165h0M1227.9 2172.1h0M1229.5 2170.5h0M1231.1 2173.6h0M1232.6 2174.6h0M1234.2 2170.8h0M1235.7 2173.3h0M1237.3 2171.1h0M1238.9 2171.3h0M1240.4 2167.6h0M1242 2166.9h0M1243.6 2171.9h0M1245.1 2170.4h0M1246.7 2167.4h0M1248.2 2167.1h0M1249.8 2164.5h0M1251.4 2169.9h0M1252.9 2172.2h0M1254.5 2170.3h0M1256 2169.8h0M1257.6 2169.9h0M1259.2 2168h0M1260.7 2171.8h0M1262.3 2177.9h0M1263.9 2182.9h0M1265.4 2182h0M1267 2181h0M1268.5 2183.2h0M1270.1 2184.2h0M1271.7 2189h0M1273.2 2187.8h0M1274.8 2181.8h0M1276.4 2184h0M1277.9 2181.9h0M1279.5 2178.8h0M1281 2182.3h0M1282.6 2176.6h0M1284.2 2176.9h0M1285.7 2175.9h0M1287.3 2179.8h0M1288.8 2176.8h0M1290.4 2175.7h0M1292 2172.7h0M1293.5 2177.2h0M1295.1 2177.4h0M1296.7 2172.9h0M1298.2 2171.9h0M1299.8 2173.3h0M1301.3 2174h0M1302.9 2177.3h0M1304.5 2177.4h0M1306 2177.1h0M1307.6 2172h0M1309.2 2175.8h0M1310.7 2179.7h0M1312.3 2181h0M1313.8 2174.7h0M1315.4 2174.6h0M1317 2177.5h0M1318.5 2177.9h0M1320.1 2175.7h0M1321.7 2172.7h0M1323.2 2173.8h0M1324.8 2174.1h0M1326.3 2169.5h0M1327.9 2170.1h0M1329.5 2173.2h0M1331 2174.4h0M1332.6 2171.7h0M1334.1 2171.2h0M1335.7 2169.4h0M1337.3 2171.1h0M1338.8 2165.6h0M1340.4 2168.3h0M1342 2167.9h0M1343.5 2171.7h0M1345.1 2165.9h0M1346.6 2168.6h0M1348.2 2166.6h0M1349.8 2165.2h0M1351.3 2159.2h0M1352.9 2159.4h0M1354.5 2166.3h0M1356 2165.9h0M1357.6 2165.4h0M1359.1 2165h0M1360.7 2165.1h0M1362.3 2168.8h0M1363.8 2167.5h0M1365.4 2171.7h0M1366.9 2173.3h0M1368.5 2173.4h0M1370.1 2177h0M1371.6 2174.8h0M1373.2 2171.1h0M1374.8 2174.3h0M1376.3 2169.5h0M1377.9 2169.1h0M1379.4 2166.4h0M1381 2165.9h0M1382.6 2168.1h0M1384.1 2168.2h0M1385.7 2168.8h0M1387.3 2166.4h0M1388.8 2168.6h0M1390.4 2162.5h0M1391.9 2166.4h0M1393.5 2159.7h0M1395.1 2163.6h0M1396.6 2161.1h0M1398.2 2164.1h0M1399.8 2161.7h0M1401.3 2160.3h0M1402.9 2158.8h0M1404.4 2158.5h0M1406 2161.1h0M1407.6 2159.9h0M1409.1 2158.2h0M1410.7 2158.6h0M1412.2 2160.9h0M1413.8 2154.5h0M1415.4 2157.2h0M1416.9 2153.3h0M1418.5 2156h0M1420.1 2148.9h0M1421.6 2155h0M1423.2 2152.9h0M1424.7 2151.1h0M1426.3 2155.2h0M1427.9 2152.4h0M1429.4 2149.4h0M1431 2150h0M1432.6 2151.9h0M1434.1 2146.8h0M1435.7 2215.6h0M1437.2 2208h0M1438.8 2206h0M1440.4 2210.7h0M1441.9 2211.5h0M1443.5 2207.6h0M1445 2205.2h0M1446.6 2208.9h0M1448.2 2205h0M1449.7 2201.6h0M1451.3 2200.6h0M1452.9 2205.3h0M1454.4 2206.2h0M1456 2207.3h0M1457.5 2204.4h0M1459.1 2199.6h0M1460.7 2215.9h0M1462.2 2211h0M1463.8 2212.4h0M1465.4 2201.4h0M1466.9 2207.3h0M1468.5 2198.6h0M1470 2201.6h0M1471.6 2205.9h0M1473.2 2197.9h0M1474.7 2206.5h0M1476.3 2199.1h0M1477.9 2202.7h0M1479.4 2195.1h0M1481 2193.8h0M1482.5 2201.3h0M1484.1 2195.4h0M1485.7 2192.6h0M1487.2 2194.8h0M1488.8 2197.2h0M1490.3 2189.8h0M1491.9 2195h0M1493.5 2203.6h0M1495 2196.7h0M1496.6 2201.7h0M1498.2 2200.7h0M1499.7 2199.2h0M1501.3 2190.5h0M1502.8 2193h0M1504.4 2186.9h0M1506 2189.8h0M1507.5 2181.2h0M1509.1 2202h0M1510.7 2196.4h0M1512.2 2196.5h0M1513.8 2196.7h0M1515.3 2196.7h0M1516.9 2190.4h0M1518.5 2201.6h0M1520 2192h0M1521.6 2189.3h0M1523.1 2186h0M1524.7 2185.5h0M1526.3 2190h0M1527.8 2178.3h0M1529.4 2176.8h0M1531 2186.1h0M1532.5 2181.6h0M1534.1 2186.3h0M1535.6 2184.3h0M1537.2 2182h0M1538.8 2182.4h0M1540.3 2173.5h0M1541.9 2180.9h0M1543.5 2177.4h0M1545 2167.6h0M1546.6 2166.8h0M1548.1 2170.1h0M1549.7 2182.4h0M1551.3 2185h0M1552.8 2192.9h0M1554.4 2191h0M1556 2194h0M1557.5 2194.7h0M1559.1 2183.7h0M1560.6 2186.3h0M1562.2 2186h0M1563.8 2176.5h0M1565.3 2182h0M1566.9 2185.3h0M1568.4 2183.5h0M1570 2186.3h0M1571.6 2180.4h0M1573.1 2176.8h0M1574.7 2181.2h0M1576.3 2177.2h0M1577.8 2169.8h0M1579.4 2166.5h0M1580.9 2165.6h0M1582.5 2165.6h0M1584.1 2173.2h0M1585.6 2172.2h0M1587.2 2174.7h0M1588.8 2185h0M1590.3 2176.5h0M1591.9 2179.9h0M1593.4 2182.2h0M1595 2178.9h0M1596.6 2167.7h0M1598.1 2166.8h0M1599.7 2166.4h0M1601.2 2160.2h0M1602.8 2159.2h0M1604.4 2150.7h0M1605.9 2157.9h0M1607.5 2163.9h0M1609.1 2174.7h0M1610.6 2188.7h0M1612.2 2190.5h0M1613.7 2194.5h0M1615.3 2187.6h0M1616.9 2186.4h0M1618.4 2194.6h0M1620 2182.1h0M1621.6 2187.1h0M1623.1 2180.3h0M1624.7 2183h0M1626.2 2175.8h0M1627.8 2177.3h0M1629.4 2182.5h0M1630.9 2179.4h0M1632.5 2175.5h0M1634.1 2179.4h0M1635.6 2178.9h0M1637.2 2185.7h0M1638.7 2178.3h0M1640.3 2193.6h0M1641.9 2187.1h0M1643.4 2189.8h0M1645 2191.1h0M1646.5 2182.9h0M1648.1 2176.9h0M1649.7 2176.3h0M1651.2 2174.2h0M1652.8 2166.6h0M1654.4 2174.3h0M1655.9 2173h0M1657.5 2171.5h0M1659 2167.3h0M1660.6 2163.9h0M1662.2 2159.2h0M1663.7 2161.8h0M1665.3 2170.4h0M1666.9 2167.8h0M1668.4 2166.7h0M1670 2159.2h0M1671.5 2166.5h0M1673.1 2164.9h0M1674.7 2167.4h0M1676.2 2169.6h0M1677.8 2169.3h0M1679.3 2168.8h0M1680.9 2169.5h0M1682.5 2167.8h0M1684 2168.2h0M1685.6 2163.6h0M1687.2 2166.7h0M1688.7 2167.6h0M1690.3 2170.5h0M1691.8 2159.7h0M1693.4 2160.3h0M1695 2156.3h0M1696.5 2152h0M1698.1 2159.7h0M1699.7 2150.6h0M1701.2 2155.6h0M1702.8 2147.6h0M1704.3 2165.6h0M1705.9 2159h0M1707.5 2153h0M1709 2155.5h0M1710.6 2154.6h0M1712.2 2156.8h0M1713.7 2147.8h0M1715.3 2168.1h0M1716.8 2164.3h0M1718.4 2156.2h0M1720 2156.6h0M1721.5 2155h0M1723.1 2157.1h0M1724.6 2154.6h0M1726.2 2155.7h0M1727.8 2160.6h0M1729.3 2162h0M1730.9 2160.9h0M1732.5 2159.8h0M1734 2155.5h0M1735.6 2158.3h0M1737.1 2156.5h0M1738.7 2158h0M1740.3 2147.7h0M1741.8 2155.7h0M1743.4 2144.4h0M1745 2152.6h0M1746.5 2149.5h0M1748.1 2163.2h0M1749.6 2157.4h0M1751.2 2154.4h0M1752.8 2157.6h0M1754.3 2157.6h0M1755.9 2153.7h0M1757.4 2151h0M1759 2152h0M1760.6 2152.2h0M1762.1 2155.5h0M1763.7 2161.6h0M1765.3 2165.9h0M1766.8 2166.5h0M1768.4 2168.4h0M1769.9 2176.6h0M1771.5 2179.9h0M1773.1 2178.4h0M1774.6 2180.3h0M1776.2 2176.5h0M1777.8 2184.6h0M1779.3 2187.2h0M1780.9 2184.7h0M1782.4 2176.3h0M1784 2183.7h0M1785.6 2174h0M1787.1 2177.7h0M1788.7 2175.1h0M1790.3 2175.1h0M1791.8 2179.1h0M1793.4 2184.2h0M1794.9 2172.7h0M1796.5 2172.5h0M1798.1 2178h0M1799.6 2176.4h0M1801.2 2180.8h0M1802.7 2178.3h0M1804.3 2190.2h0M1805.9 2181.7h0M1807.4 2179h0M1809 2178.2h0M1810.6 2172h0M1812.1 2168.9h0M1813.7 2169h0M1815.2 2163.3h0M1816.8 2167.8h0M1818.4 2162.7h0M1819.9 2160.5h0M1821.5 2169.1h0M1823.1 2168.5h0M1824.6 2169.5h0M1826.2 2168.7h0M1827.7 2171.5h0M1829.3 2171.6h0M1830.9 2164.9h0M1832.4 2176h0M1834 2177.5h0M1835.5 2166.8h0M1837.1 2166.1h0M1838.7 2166.6h0M1840.2 2155.9h0M1841.8 2154.7h0M1843.4 2159.7h0M1844.9 2155h0M1846.5 2148.9h0M1848 2164.2h0M1849.6 2161.4h0M1851.2 2162.6h0M1852.7 2164.3h0M1854.3 2162.7h0M1855.9 2156.8h0M1857.4 2153.3h0M1859 2168h0" stroke="#0000ff" stroke-width="10" stroke-linecap="round" fill="none"/>
<circle cx="184.1" cy="1661.5" r="5.2" fill="#0a7a0a"/>
<circle cx="297.6" cy="1667.5" r="5.2" fill="#0a7a0a"/>
<circle cx="411.1" cy="1670.6" r="5.2" fill="#0a7a0a"/>
<circle cx="582.1" cy="1670.6" r="5.2" fill="#0a7a0a"/>
<circle cx="751.2" cy="1656" r="5.2" fill="#0a7a0a"/>
<circle cx="922.2" cy="1667.9" r="5.2" fill="#0a7a0a"/>
<circle cx="1092.5" cy="1676.2" r="5.2" fill="#0a7a0a"/>
<circle cx="1262.8" cy="1666.3" r="5.2" fill="#0a7a0a"/>
<circle cx="1433.7" cy="1666.3" r="5.2" fill="#0a7a0a"/>
<circle cx="1603.6" cy="1661.7" r="5.2" fill="#0a7a0a"/>
<circle cx="1774" cy="1666.3" r="5.2" fill="#0a7a0a"/>
<circle cx="212.3" cy="1657.9" r="5.2" fill="#ff0000"/>
<circle cx="382.1" cy="1660.3" r="5.2" fill="#ff0000"/>
<circle cx="553.2" cy="1661.5" r="5.2" fill="#ff0000"/>
<circle cx="723.4" cy="1652.8" r="5.2" fill="#ff0000"/>
<circle cx="893.3" cy="1660.3" r="5.2" fill="#ff0000"/>
<circle cx="1064.3" cy="1660.3" r="5.2" fill="#ff0000"/>
<circle cx="1234.7" cy="1667.3" r="5.2" fill="#ff0000"/>
<circle cx="1404.6" cy="1661.2" r="5.2" fill="#ff0000"/>
<circle cx="1574.5" cy="1657.7" r="5.2" fill="#ff0000"/>
<circle cx="169.8" cy="1659.5" r="5.2" fill="#0000ff"/>
<circle cx="255.2" cy="1654" r="5.2" fill="#0000ff"/>
<circle cx="340.1" cy="1650.4" r="5.2" fill="#0000ff"/>
<circle cx="425" cy="1644" r="5.2" fill="#0000ff"/>
<circle cx="510.7" cy="1650.4" r="5.2" fill="#0000ff"/>
<circle cx="595.6" cy="1652.8" r="5.2" fill="#0000ff"/>
<circle cx="680.4" cy="1659.1" r="5.2" fill="#0000ff"/>
<circle cx="766.3" cy="1650" r="5.2" fill="#0000ff"/>
<circle cx="851.2" cy="1638.1" r="5.2" fill="#0000ff"/>
<circle cx="936.1" cy="1648" r="5.2" fill="#0000ff"/>
<circle cx="1021.8" cy="1654.4" r="5.2" fill="#0000ff"/>
<circle cx="1106.6" cy="1645.4" r="5.2" fill="#0000ff"/>
<circle cx="1191.8" cy="1650" r="5.2" fill="#0000ff"/>
<circle cx="1277" cy="1657.7" r="5.2" fill="#0000ff"/>
<circle cx="1362.2" cy="1653.6" r="5.2" fill="#0000ff"/>
<circle cx="1447.4" cy="1650" r="5.2" fill="#0000ff"/>
<circle cx="1532.1" cy="1641.3" r="5.2" fill="#0000ff"/>
<circle cx="1617.9" cy="1636.2" r="5.2" fill="#0000ff"/>
<circle cx="1702.6" cy="1655.1" r="5.2" fill="#0000ff"/>
<circle cx="1787.8" cy="1648" r="5.2" fill="#0000ff"/>
<ellipse cx="283.2" cy="1978" rx="21.5" ry="252" fill="none" stroke="#222" stroke-width="3" stroke-dasharray="18 22.7" stroke-dashoffset="17.5"/>
<ellipse cx="1603" cy="1657.5" rx="63.5" ry="27" fill="none" stroke="#111" stroke-width="3.5" stroke-dasharray="22 22.3" stroke-dashoffset="11"/>
<path d="M261 1928.3H212" stroke="#808080" stroke-width="2.6" fill="none"/><path d="M261 1928.3v9" stroke="#808080" stroke-width="2.6"/><polygon points="184,1928.3 215,1921.5 215,1935.1" fill="#808080"/>
<path d="M1666 1647H1728" stroke="#808080" stroke-width="2.6" fill="none"/><polygon points="1757,1647 1726,1640.5 1726,1653.5" fill="#808080"/>
<rect x="156.5" y="1629.6" width="1704" height="629.2" fill="none" stroke="#000" stroke-width="3.2"/>
<polygon points="140,1816.5 176,1806.8 176,1818.8 140,1828.5" fill="#fff"/>
<line x1="136" y1="1817.7" x2="176" y2="1806.8" stroke="#000" stroke-width="2.6" />
<line x1="136" y1="1829" x2="176" y2="1818.8" stroke="#000" stroke-width="2.6" />
<line x1="139.5" y1="1629.6" x2="156.5" y2="1629.6" stroke="#000" stroke-width="2.8" />
<text x="125" y="1641.1" font-size="32.5" text-anchor="end" >-20</text>
<line x1="148" y1="1659.9" x2="156.5" y2="1659.9" stroke="#000" stroke-width="2.8" />
<line x1="139.5" y1="1690.2" x2="156.5" y2="1690.2" stroke="#000" stroke-width="2.8" />
<text x="125" y="1701.7" font-size="32.5" text-anchor="end" >-30</text>
<line x1="148" y1="1720.5" x2="156.5" y2="1720.5" stroke="#000" stroke-width="2.8" />
<line x1="139.5" y1="1750.8" x2="156.5" y2="1750.8" stroke="#000" stroke-width="2.8" />
<text x="125" y="1762.3" font-size="32.5" text-anchor="end" >-40</text>
<line x1="148" y1="1781.1" x2="156.5" y2="1781.1" stroke="#000" stroke-width="2.8" />
<line x1="139.5" y1="1811.4" x2="156.5" y2="1811.4" stroke="#000" stroke-width="2.8" />
<text x="125" y="1822.9" font-size="32.5" text-anchor="end" >-50</text>
<line x1="148" y1="1859.1" x2="156.5" y2="1859.1" stroke="#000" stroke-width="2.8" />
<line x1="139.5" y1="1895.5" x2="156.5" y2="1895.5" stroke="#000" stroke-width="2.8" />
<text x="125" y="1907" font-size="32.5" text-anchor="end" >-250</text>
<line x1="148" y1="1931.8" x2="156.5" y2="1931.8" stroke="#000" stroke-width="2.8" />
<line x1="139.5" y1="1968.2" x2="156.5" y2="1968.2" stroke="#000" stroke-width="2.8" />
<text x="125" y="1979.7" font-size="32.5" text-anchor="end" >-300</text>
<line x1="148" y1="2004.6" x2="156.5" y2="2004.6" stroke="#000" stroke-width="2.8" />
<line x1="139.5" y1="2040.9" x2="156.5" y2="2040.9" stroke="#000" stroke-width="2.8" />
<text x="125" y="2052.4" font-size="32.5" text-anchor="end" >-350</text>
<line x1="148" y1="2077.3" x2="156.5" y2="2077.3" stroke="#000" stroke-width="2.8" />
<line x1="139.5" y1="2113.7" x2="156.5" y2="2113.7" stroke="#000" stroke-width="2.8" />
<text x="125" y="2125.2" font-size="32.5" text-anchor="end" >-400</text>
<line x1="148" y1="2150.1" x2="156.5" y2="2150.1" stroke="#000" stroke-width="2.8" />
<line x1="139.5" y1="2186.4" x2="156.5" y2="2186.4" stroke="#000" stroke-width="2.8" />
<text x="125" y="2197.9" font-size="32.5" text-anchor="end" >-450</text>
<line x1="148" y1="2222.8" x2="156.5" y2="2222.8" stroke="#000" stroke-width="2.8" />
<line x1="139.5" y1="2259.2" x2="156.5" y2="2259.2" stroke="#000" stroke-width="2.8" />
<text x="125" y="2270.7" font-size="32.5" text-anchor="end" >-500</text>
<line x1="1860.5" y1="2258.8" x2="1877.5" y2="2258.8" stroke="#000" stroke-width="2.8" />
<text x="1887.8" y="2270.1" font-size="32.5" text-anchor="start" >50</text>
<line x1="1860.5" y1="2195.9" x2="1869" y2="2195.9" stroke="#000" stroke-width="2.8" />
<line x1="1860.5" y1="2133" x2="1877.5" y2="2133" stroke="#000" stroke-width="2.8" />
<text x="1887.8" y="2144.3" font-size="32.5" text-anchor="start" >60</text>
<line x1="1860.5" y1="2070" x2="1869" y2="2070" stroke="#000" stroke-width="2.8" />
<line x1="1860.5" y1="2007.1" x2="1877.5" y2="2007.1" stroke="#000" stroke-width="2.8" />
<text x="1887.8" y="2018.4" font-size="32.5" text-anchor="start" >70</text>
<line x1="1860.5" y1="1944.2" x2="1869" y2="1944.2" stroke="#000" stroke-width="2.8" />
<line x1="1860.5" y1="1881.3" x2="1877.5" y2="1881.3" stroke="#000" stroke-width="2.8" />
<text x="1887.8" y="1892.6" font-size="32.5" text-anchor="start" >80</text>
<line x1="1860.5" y1="1818.4" x2="1869" y2="1818.4" stroke="#000" stroke-width="2.8" />
<line x1="1860.5" y1="1755.4" x2="1877.5" y2="1755.4" stroke="#000" stroke-width="2.8" />
<text x="1887.8" y="1766.7" font-size="32.5" text-anchor="start" >90</text>
<line x1="1860.5" y1="1692.5" x2="1869" y2="1692.5" stroke="#000" stroke-width="2.8" />
<line x1="1860.5" y1="1629.6" x2="1877.5" y2="1629.6" stroke="#000" stroke-width="2.8" />
<text x="1887.8" y="1640.9" font-size="32.5" text-anchor="start" >100</text>
<line x1="156.4" y1="2258.8" x2="156.4" y2="2275.8" stroke="#000" stroke-width="2.8" />
<text x="156.4" y="2311" font-size="32.5" text-anchor="middle" >0</text>
<line x1="227.4" y1="2258.8" x2="227.4" y2="2267.3" stroke="#000" stroke-width="2.8" />
<line x1="298.4" y1="2258.8" x2="298.4" y2="2275.8" stroke="#000" stroke-width="2.8" />
<text x="298.4" y="2311" font-size="32.5" text-anchor="middle" >5</text>
<line x1="369.4" y1="2258.8" x2="369.4" y2="2267.3" stroke="#000" stroke-width="2.8" />
<line x1="440.4" y1="2258.8" x2="440.4" y2="2275.8" stroke="#000" stroke-width="2.8" />
<text x="440.4" y="2311" font-size="32.5" text-anchor="middle" >10</text>
<line x1="511.4" y1="2258.8" x2="511.4" y2="2267.3" stroke="#000" stroke-width="2.8" />
<line x1="582.4" y1="2258.8" x2="582.4" y2="2275.8" stroke="#000" stroke-width="2.8" />
<text x="582.4" y="2311" font-size="32.5" text-anchor="middle" >15</text>
<line x1="653.4" y1="2258.8" x2="653.4" y2="2267.3" stroke="#000" stroke-width="2.8" />
<line x1="724.4" y1="2258.8" x2="724.4" y2="2275.8" stroke="#000" stroke-width="2.8" />
<text x="724.4" y="2311" font-size="32.5" text-anchor="middle" >20</text>
<line x1="795.4" y1="2258.8" x2="795.4" y2="2267.3" stroke="#000" stroke-width="2.8" />
<line x1="866.4" y1="2258.8" x2="866.4" y2="2275.8" stroke="#000" stroke-width="2.8" />
<text x="866.4" y="2311" font-size="32.5" text-anchor="middle" >25</text>
<line x1="937.4" y1="2258.8" x2="937.4" y2="2267.3" stroke="#000" stroke-width="2.8" />
<line x1="1008.4" y1="2258.8" x2="1008.4" y2="2275.8" stroke="#000" stroke-width="2.8" />
<text x="1008.4" y="2311" font-size="32.5" text-anchor="middle" >30</text>
<line x1="1079.4" y1="2258.8" x2="1079.4" y2="2267.3" stroke="#000" stroke-width="2.8" />
<line x1="1150.4" y1="2258.8" x2="1150.4" y2="2275.8" stroke="#000" stroke-width="2.8" />
<text x="1150.4" y="2311" font-size="32.5" text-anchor="middle" >35</text>
<line x1="1221.4" y1="2258.8" x2="1221.4" y2="2267.3" stroke="#000" stroke-width="2.8" />
<line x1="1292.4" y1="2258.8" x2="1292.4" y2="2275.8" stroke="#000" stroke-width="2.8" />
<text x="1292.4" y="2311" font-size="32.5" text-anchor="middle" >40</text>
<line x1="1363.4" y1="2258.8" x2="1363.4" y2="2267.3" stroke="#000" stroke-width="2.8" />
<line x1="1434.4" y1="2258.8" x2="1434.4" y2="2275.8" stroke="#000" stroke-width="2.8" />
<text x="1434.4" y="2311" font-size="32.5" text-anchor="middle" >45</text>
<line x1="1505.4" y1="2258.8" x2="1505.4" y2="2267.3" stroke="#000" stroke-width="2.8" />
<line x1="1576.4" y1="2258.8" x2="1576.4" y2="2275.8" stroke="#000" stroke-width="2.8" />
<text x="1576.4" y="2311" font-size="32.5" text-anchor="middle" >50</text>
<line x1="1647.4" y1="2258.8" x2="1647.4" y2="2267.3" stroke="#000" stroke-width="2.8" />
<line x1="1718.4" y1="2258.8" x2="1718.4" y2="2275.8" stroke="#000" stroke-width="2.8" />
<text x="1718.4" y="2311" font-size="32.5" text-anchor="middle" >55</text>
<line x1="1789.4" y1="2258.8" x2="1789.4" y2="2267.3" stroke="#000" stroke-width="2.8" />
<line x1="1860.4" y1="2258.8" x2="1860.4" y2="2275.8" stroke="#000" stroke-width="2.8" />
<text x="1860.4" y="2311" font-size="32.5" text-anchor="middle" >60</text>
<text x="1008" y="2358" font-size="32.5" text-anchor="middle" >Time (hour)</text>
<text x="45.5" y="2098.5" font-size="32.4" text-anchor="start" transform="rotate(-90 45.5 2098.5)" >Current density (mA cm<tspan font-size="22.3" dy="-14.5" dx="3">-2</tspan><tspan font-size="22.3" dy="17.3" dx="-18.8">geo</tspan><tspan dy="-2.8">)</tspan></text>
<text x="1971" y="1936.3" font-size="32.7" text-anchor="middle" transform="rotate(-90 1971 1936.3)" >Faradaic efficiency (CO, %)</text>
<text transform="translate(13 1658) scale(1.04 1)" font-size="54" font-weight="bold" stroke="#000" stroke-width="0.7">e</text>
<circle cx="1143.4" cy="1763.3" r="4.6" fill="#0a7a0a"/>
<text x="1207" y="1776" font-size="45.2" text-anchor="start" xml:space="preserve">H-cell (-0.7 V<tspan font-size="31" dy="12.5">RHE</tspan><tspan dy="-12.5">&#8203;</tspan>, 0.5 M KHCO<tspan font-size="31" dy="12.5">3</tspan><tspan dy="-12.5">&#8203;</tspan>)</text>
<circle cx="1143.4" cy="1827" r="4.6" fill="#ff0000"/>
<text x="1207" y="1839.8" font-size="45.2" text-anchor="start" xml:space="preserve">GDE   (-0.7 V<tspan font-size="31" dy="12.5">RHE</tspan><tspan dy="-12.5">&#8203;</tspan>, 0.5 M KHCO<tspan font-size="31" dy="12.5">3</tspan><tspan dy="-12.5">&#8203;</tspan>)</text>
<circle cx="1143.4" cy="1891.8" r="4.6" fill="#0000ff"/>
<text x="1207" y="1905.1" font-size="45.2" text-anchor="start" xml:space="preserve">GDE   (-0.6 V<tspan font-size="31" dy="12.5">RHE</tspan><tspan dy="-12.5">&#8203;</tspan>, 1.0 M KOH)</text>
<text x="607" y="2110" font-size="44" text-anchor="start" font-weight="bold" >refresh</text>
<path d="M620.5 2116.5L594 2149.5" stroke="#000" stroke-width="2.4"/><polygon points="580.5,2166.5 589.5,2139.5 605,2152" fill="#000"/>
</svg></body></html>
